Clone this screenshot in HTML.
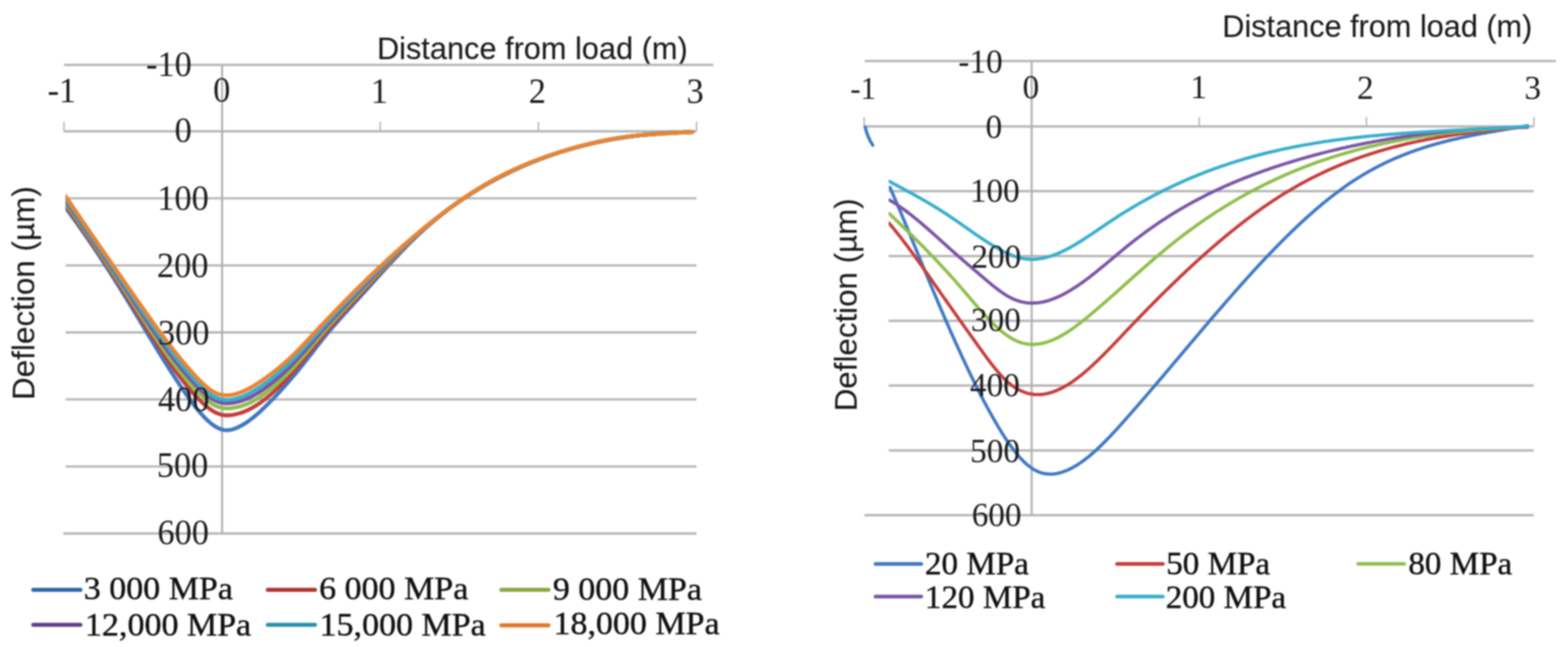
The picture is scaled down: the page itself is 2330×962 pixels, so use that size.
<!DOCTYPE html><html><head><meta charset="utf-8"><title>Deflection charts</title><style>html,body{margin:0;padding:0;background:#fff;}svg{display:block;filter:blur(0.8px);}.n{font-family:"Liberation Serif","Times New Roman",serif;fill:#1c1c1c;stroke:#1c1c1c;stroke-width:0.00px;}.lg{stroke-width:0.6px;fill:#111;stroke:#111;}.t{font-family:"Liberation Sans",Arial,sans-serif;fill:#1a1a1a;stroke:#1a1a1a;stroke-width:0.15px;}</style></head><body>
<svg width="2330" height="962" viewBox="0 0 2330 962">
<defs><clipPath id="cl"><rect x="97.5" y="0" width="1000" height="962"/></clipPath><clipPath id="cr"><rect x="1320.5" y="0" width="1000" height="962"/></clipPath></defs>
<rect x="0" y="0" width="2330" height="962" fill="#fff"/>
<g id="left">
<text class="t" transform="translate(560.14 88.40) scale(1 1.0169)" x="0" y="0" font-size="45.68">Distance from load (m)</text>
<text class="t" transform="translate(50.72 594.65) rotate(-90) scale(1 0.9818)" x="0" y="0" font-size="46.73">Deflection (µm)</text>
<line x1="95" y1="96.5" x2="1060" y2="96.5" stroke="#b6b6b6" stroke-width="3.4"/>
<line x1="95.0" y1="195.2" x2="1035" y2="195.2" stroke="#b6b6b6" stroke-width="3.4"/>
<line x1="97.5" y1="294.9" x2="1035" y2="294.9" stroke="#b6b6b6" stroke-width="3.4"/>
<line x1="97.5" y1="394.6" x2="1035" y2="394.6" stroke="#b6b6b6" stroke-width="3.4"/>
<line x1="97.5" y1="494.2" x2="1035" y2="494.2" stroke="#b6b6b6" stroke-width="3.4"/>
<line x1="97.5" y1="593.9" x2="1035" y2="593.9" stroke="#b6b6b6" stroke-width="3.4"/>
<line x1="97.5" y1="693.6" x2="1035" y2="693.6" stroke="#b6b6b6" stroke-width="3.4"/>
<line x1="94.0" y1="793.3" x2="1035" y2="793.3" stroke="#b6b6b6" stroke-width="3.4"/>
<line x1="95.0" y1="181" x2="95.0" y2="195" stroke="#b0b0b0" stroke-width="2"/>
<line x1="330.0" y1="181" x2="330.0" y2="195" stroke="#b0b0b0" stroke-width="2"/>
<line x1="565.0" y1="181" x2="565.0" y2="195" stroke="#b0b0b0" stroke-width="2"/>
<line x1="800.0" y1="181" x2="800.0" y2="195" stroke="#b0b0b0" stroke-width="2"/>
<line x1="1035.0" y1="181" x2="1035.0" y2="195" stroke="#b0b0b0" stroke-width="2"/>
<line x1="330" y1="98" x2="330" y2="793" stroke="#b0b0b0" stroke-width="3"/>
<g fill="none" stroke-width="5.8" stroke-linejoin="round" stroke-linecap="round" clip-path="url(#cl)">
<path d="M97.0 308.2L99.0 310.9L101.0 313.6L103.0 316.3L105.0 319.0L107.0 321.8L109.0 324.6L111.0 327.3L113.0 330.1L115.0 332.9L117.0 335.8L119.0 338.6L121.0 341.5L123.0 344.3L125.0 347.2L127.0 350.1L129.0 353.0L131.0 355.9L133.0 358.8L135.0 361.8L137.0 364.7L139.0 367.7L141.0 370.7L143.0 373.7L145.0 376.7L147.0 379.7L149.0 382.7L151.0 385.8L153.0 388.8L155.0 391.9L157.0 395.0L159.0 398.1L161.0 401.2L163.0 404.3L165.0 407.4L167.0 410.6L169.0 413.7L171.0 416.9L173.0 420.1L175.0 423.3L177.0 426.5L179.0 429.7L181.0 432.9L183.0 436.1L185.0 439.4L187.0 442.6L189.0 445.9L191.0 449.2L193.0 452.5L195.0 455.8L197.0 459.1L199.0 462.4L201.0 465.7L203.0 469.0L205.0 472.3L207.0 475.6L209.0 479.0L211.0 482.3L213.0 485.6L215.0 488.9L217.0 492.2L219.0 495.6L221.0 498.9L223.0 502.2L225.0 505.5L227.0 508.8L229.0 512.1L231.0 515.4L233.0 518.6L235.0 521.9L237.0 525.2L239.0 528.4L241.0 531.6L243.0 534.9L245.0 538.1L247.0 541.2L249.0 544.4L251.0 547.6L253.0 550.7L255.0 553.9L257.0 557.0L259.0 560.0L261.0 563.1L263.0 566.2L265.0 569.2L267.0 572.2L269.0 575.2L271.0 578.1L273.0 581.0L275.0 583.9L277.0 586.8L279.0 589.7L281.0 592.5L283.0 595.2L285.0 597.9L287.0 600.6L289.0 603.2L291.0 605.8L293.0 608.3L295.0 610.7L297.0 613.1L299.0 615.3L301.0 617.6L303.0 619.7L305.0 621.8L307.0 623.7L309.0 625.6L311.0 627.4L313.0 629.1L315.0 630.7L317.0 632.1L319.0 633.5L321.0 634.8L323.0 635.9L325.0 636.9L327.0 637.7L329.0 638.4L331.0 639.0L333.0 639.4L335.0 639.6L337.0 639.7L339.0 639.6L341.0 639.4L343.0 639.0L345.0 638.6L347.0 638.0L349.0 637.3L351.0 636.6L353.0 635.7L355.0 634.7L357.0 633.7L359.0 632.6L361.0 631.5L363.0 630.3L365.0 629.0L367.0 627.7L369.0 626.3L371.0 624.8L373.0 623.3L375.0 621.8L377.0 620.2L379.0 618.5L381.0 616.8L383.0 615.1L385.0 613.3L387.0 611.5L389.0 609.6L391.0 607.7L393.0 605.8L395.0 603.8L397.0 601.9L399.0 599.9L401.0 597.8L403.0 595.8L405.0 593.7L407.0 591.6L409.0 589.5L411.0 587.4L413.0 585.2L415.0 583.0L417.0 580.9L419.0 578.6L421.0 576.4L423.0 574.2L425.0 571.9L427.0 569.7L429.0 567.4L431.0 565.0L433.0 562.7L435.0 560.4L437.0 558.0L439.0 555.6L441.0 553.2L443.0 550.8L445.0 548.3L447.0 545.8L449.0 543.4L451.0 540.8L453.0 538.3L455.0 535.8L457.0 533.2L459.0 530.6L461.0 528.1L463.0 525.5L465.0 522.9L467.0 520.3L469.0 517.7L471.0 515.1L473.0 512.6L475.0 510.0L477.0 507.5L479.0 505.0L481.0 502.5L483.0 500.0L485.0 497.5L487.0 495.1L489.0 492.7L491.0 490.4L493.0 488.0L495.0 485.7L497.0 483.4L499.0 481.1L501.0 478.8L503.0 476.5L505.0 474.3L507.0 472.1L509.0 469.8L511.0 467.6L513.0 465.4L515.0 463.2L517.0 461.0L519.0 458.8L521.0 456.7L523.0 454.5L525.0 452.3L527.0 450.1L529.0 447.9L531.0 445.7L533.0 443.5L535.0 441.3L537.0 439.1L539.0 436.9L541.0 434.7L543.0 432.4L545.0 430.2L547.0 428.0L549.0 425.8L551.0 423.5L553.0 421.3L555.0 419.1L557.0 416.9L559.0 414.6L561.0 412.4L563.0 410.2L565.0 408.0L567.0 405.8L569.0 403.6L571.0 401.4L573.0 399.2L575.0 397.0L577.0 394.8L579.0 392.7L581.0 390.5L583.0 388.3L585.0 386.2L587.0 384.0L589.0 381.9L591.0 379.8L593.0 377.7L595.0 375.6L597.0 373.5L599.0 371.4L601.0 369.4L603.0 367.3L605.0 365.3L607.0 363.3L609.0 361.3L611.0 359.3L613.0 357.3L615.0 355.4L617.0 353.4L619.0 351.5L621.0 349.6L623.0 347.7L625.0 345.9L627.0 344.0L629.0 342.2L631.0 340.4L633.0 338.6L635.0 336.8L637.0 335.1L639.0 333.4L641.0 331.6L643.0 329.9L645.0 328.2L647.0 326.6L649.0 324.9L651.0 323.3L653.0 321.7L655.0 320.1L657.0 318.5L659.0 316.9L661.0 315.4L663.0 313.8L665.0 312.3L667.0 310.8L669.0 309.3L671.0 307.8L673.0 306.4L675.0 304.9L677.0 303.5L679.0 302.1L681.0 300.7L683.0 299.3L685.0 297.9L687.0 296.5L689.0 295.2L691.0 293.8L693.0 292.5L695.0 291.2L697.0 289.9L699.0 288.6L701.0 287.4L703.0 286.1L705.0 284.9L707.0 283.6L709.0 282.4L711.0 281.2L713.0 280.0L715.0 278.8L717.0 277.6L719.0 276.5L721.0 275.3L723.0 274.2L725.0 273.0L727.0 271.9L729.0 270.8L731.0 269.7L733.0 268.6L735.0 267.6L737.0 266.5L739.0 265.4L741.0 264.4L743.0 263.3L745.0 262.3L747.0 261.3L749.0 260.3L751.0 259.3L753.0 258.3L755.0 257.3L757.0 256.3L759.0 255.4L761.0 254.4L763.0 253.5L765.0 252.5L767.0 251.6L769.0 250.7L771.0 249.8L773.0 248.9L775.0 248.0L777.0 247.1L779.0 246.3L781.0 245.4L783.0 244.5L785.0 243.7L787.0 242.9L789.0 242.0L791.0 241.2L793.0 240.4L795.0 239.6L797.0 238.8L799.0 238.0L801.0 237.3L803.0 236.5L805.0 235.8L807.0 235.0L809.0 234.3L811.0 233.5L813.0 232.8L815.0 232.1L817.0 231.4L819.0 230.7L821.0 230.0L823.0 229.3L825.0 228.7L827.0 228.0L829.0 227.3L831.0 226.7L833.0 226.0L835.0 225.4L837.0 224.8L839.0 224.2L841.0 223.6L843.0 223.0L845.0 222.4L847.0 221.8L849.0 221.2L851.0 220.7L853.0 220.1L855.0 219.5L857.0 219.0L859.0 218.5L861.0 217.9L863.0 217.4L865.0 216.9L867.0 216.4L869.0 215.9L871.0 215.4L873.0 214.9L875.0 214.4L877.0 213.9L879.0 213.5L881.0 213.0L883.0 212.6L885.0 212.1L887.0 211.7L889.0 211.3L891.0 210.8L893.0 210.4L895.0 210.0L897.0 209.6L899.0 209.2L901.0 208.8L903.0 208.5L905.0 208.1L907.0 207.7L909.0 207.3L911.0 207.0L913.0 206.6L915.0 206.3L917.0 206.0L919.0 205.6L921.0 205.3L923.0 205.0L925.0 204.7L927.0 204.4L929.0 204.1L931.0 203.8L933.0 203.5L935.0 203.2L937.0 203.0L939.0 202.7L941.0 202.4L943.0 202.2L945.0 201.9L947.0 201.7L949.0 201.5L951.0 201.2L953.0 201.0L955.0 200.8L957.0 200.6L959.0 200.4L961.0 200.2L963.0 200.0L965.0 199.8L967.0 199.6L969.0 199.4L971.0 199.2L973.0 199.1L975.0 198.9L977.0 198.7L979.0 198.6L981.0 198.4L983.0 198.3L985.0 198.2L987.0 198.0L989.0 197.9L991.0 197.8L993.0 197.7L995.0 197.6L997.0 197.5L999.0 197.4L1001.0 197.3L1003.0 197.2L1005.0 197.1L1007.0 197.0L1009.0 196.9L1011.0 196.9L1013.0 196.8L1015.0 196.7L1017.0 196.7L1019.0 196.6L1021.0 196.6L1023.0 196.5L1025.0 196.5L1027.0 196.4L1028.7 196.4" stroke="#3f78c4"/>
<path d="M97.0 304.7L99.0 307.5L101.0 310.2L103.0 313.0L105.0 315.8L107.0 318.6L109.0 321.4L111.0 324.2L113.0 327.0L115.0 329.9L117.0 332.7L119.0 335.6L121.0 338.4L123.0 341.3L125.0 344.2L127.0 347.1L129.0 350.0L131.0 352.9L133.0 355.9L135.0 358.8L137.0 361.7L139.0 364.7L141.0 367.7L143.0 370.6L145.0 373.6L147.0 376.6L149.0 379.6L151.0 382.6L153.0 385.7L155.0 388.7L157.0 391.7L159.0 394.8L161.0 397.8L163.0 400.9L165.0 404.0L167.0 407.1L169.0 410.2L171.0 413.3L173.0 416.4L175.0 419.5L177.0 422.7L179.0 425.8L181.0 428.9L183.0 432.1L185.0 435.3L187.0 438.4L189.0 441.6L191.0 444.8L193.0 448.0L195.0 451.2L197.0 454.3L199.0 457.5L201.0 460.7L203.0 463.9L205.0 467.1L207.0 470.3L209.0 473.5L211.0 476.7L213.0 479.9L215.0 483.1L217.0 486.2L219.0 489.4L221.0 492.5L223.0 495.7L225.0 498.8L227.0 501.9L229.0 505.0L231.0 508.1L233.0 511.2L235.0 514.2L237.0 517.3L239.0 520.3L241.0 523.3L243.0 526.3L245.0 529.2L247.0 532.2L249.0 535.1L251.0 537.9L253.0 540.8L255.0 543.6L257.0 546.4L259.0 549.2L261.0 551.9L263.0 554.6L265.0 557.3L267.0 560.0L269.0 562.6L271.0 565.2L273.0 567.7L275.0 570.2L277.0 572.7L279.0 575.2L281.0 577.6L283.0 579.9L285.0 582.3L287.0 584.5L289.0 586.8L291.0 589.0L293.0 591.1L295.0 593.2L297.0 595.2L299.0 597.2L301.0 599.1L303.0 600.9L305.0 602.7L307.0 604.3L309.0 605.9L311.0 607.5L313.0 608.9L315.0 610.2L317.0 611.5L319.0 612.6L321.0 613.6L323.0 614.5L325.0 615.3L327.0 616.0L329.0 616.5L331.0 617.0L333.0 617.3L335.0 617.5L337.0 617.5L339.0 617.5L341.0 617.4L343.0 617.3L345.0 617.0L347.0 616.7L349.0 616.3L351.0 615.8L353.0 615.3L355.0 614.8L357.0 614.2L359.0 613.5L361.0 612.8L363.0 612.0L365.0 611.2L367.0 610.3L369.0 609.4L371.0 608.4L373.0 607.4L375.0 606.3L377.0 605.1L379.0 604.0L381.0 602.7L383.0 601.4L385.0 600.1L387.0 598.7L389.0 597.2L391.0 595.7L393.0 594.2L395.0 592.6L397.0 591.0L399.0 589.3L401.0 587.6L403.0 585.9L405.0 584.1L407.0 582.3L409.0 580.4L411.0 578.6L413.0 576.7L415.0 574.7L417.0 572.8L419.0 570.8L421.0 568.7L423.0 566.7L425.0 564.6L427.0 562.5L429.0 560.3L431.0 558.2L433.0 556.0L435.0 553.7L437.0 551.5L439.0 549.2L441.0 546.9L443.0 544.6L445.0 542.2L447.0 539.9L449.0 537.5L451.0 535.0L453.0 532.6L455.0 530.2L457.0 527.7L459.0 525.2L461.0 522.7L463.0 520.2L465.0 517.7L467.0 515.3L469.0 512.8L471.0 510.3L473.0 507.8L475.0 505.3L477.0 502.9L479.0 500.4L481.0 498.0L483.0 495.6L485.0 493.2L487.0 490.9L489.0 488.5L491.0 486.2L493.0 483.9L495.0 481.7L497.0 479.4L499.0 477.2L501.0 474.9L503.0 472.7L505.0 470.5L507.0 468.3L509.0 466.1L511.0 463.9L513.0 461.8L515.0 459.6L517.0 457.4L519.0 455.3L521.0 453.1L523.0 451.0L525.0 448.8L527.0 446.7L529.0 444.5L531.0 442.4L533.0 440.2L535.0 438.1L537.0 435.9L539.0 433.7L541.0 431.6L543.0 429.4L545.0 427.2L547.0 425.1L549.0 422.9L551.0 420.7L553.0 418.6L555.0 416.4L557.0 414.2L559.0 412.1L561.0 409.9L563.0 407.8L565.0 405.6L567.0 403.5L569.0 401.4L571.0 399.2L573.0 397.1L575.0 395.0L577.0 392.9L579.0 390.8L581.0 388.7L583.0 386.6L585.0 384.5L587.0 382.4L589.0 380.4L591.0 378.3L593.0 376.3L595.0 374.2L597.0 372.2L599.0 370.2L601.0 368.2L603.0 366.2L605.0 364.2L607.0 362.3L609.0 360.3L611.0 358.4L613.0 356.5L615.0 354.6L617.0 352.7L619.0 350.8L621.0 349.0L623.0 347.1L625.0 345.3L627.0 343.5L629.0 341.7L631.0 339.9L633.0 338.2L635.0 336.4L637.0 334.7L639.0 333.0L641.0 331.3L643.0 329.6L645.0 328.0L647.0 326.3L649.0 324.7L651.0 323.1L653.0 321.5L655.0 319.9L657.0 318.3L659.0 316.8L661.0 315.2L663.0 313.7L665.0 312.2L667.0 310.7L669.0 309.2L671.0 307.7L673.0 306.3L675.0 304.8L677.0 303.4L679.0 302.0L681.0 300.6L683.0 299.2L685.0 297.8L687.0 296.4L689.0 295.1L691.0 293.7L693.0 292.4L695.0 291.1L697.0 289.8L699.0 288.5L701.0 287.2L703.0 286.0L705.0 284.7L707.0 283.5L709.0 282.3L711.0 281.0L713.0 279.8L715.0 278.6L717.0 277.5L719.0 276.3L721.0 275.1L723.0 274.0L725.0 272.9L727.0 271.7L729.0 270.6L731.0 269.5L733.0 268.4L735.0 267.3L737.0 266.3L739.0 265.2L741.0 264.2L743.0 263.1L745.0 262.1L747.0 261.1L749.0 260.1L751.0 259.1L753.0 258.1L755.0 257.1L757.0 256.1L759.0 255.2L761.0 254.2L763.0 253.3L765.0 252.3L767.0 251.4L769.0 250.5L771.0 249.6L773.0 248.7L775.0 247.8L777.0 247.0L779.0 246.1L781.0 245.2L783.0 244.4L785.0 243.6L787.0 242.7L789.0 241.9L791.0 241.1L793.0 240.3L795.0 239.5L797.0 238.7L799.0 237.9L801.0 237.2L803.0 236.4L805.0 235.7L807.0 234.9L809.0 234.2L811.0 233.5L813.0 232.8L815.0 232.0L817.0 231.3L819.0 230.7L821.0 230.0L823.0 229.3L825.0 228.6L827.0 228.0L829.0 227.3L831.0 226.7L833.0 226.0L835.0 225.4L837.0 224.8L839.0 224.2L841.0 223.5L843.0 222.9L845.0 222.4L847.0 221.8L849.0 221.2L851.0 220.6L853.0 220.1L855.0 219.5L857.0 219.0L859.0 218.4L861.0 217.9L863.0 217.4L865.0 216.8L867.0 216.3L869.0 215.8L871.0 215.3L873.0 214.8L875.0 214.3L877.0 213.9L879.0 213.4L881.0 212.9L883.0 212.5L885.0 212.0L887.0 211.6L889.0 211.2L891.0 210.7L893.0 210.3L895.0 209.9L897.0 209.5L899.0 209.1L901.0 208.7L903.0 208.3L905.0 208.0L907.0 207.6L909.0 207.2L911.0 206.9L913.0 206.5L915.0 206.2L917.0 205.9L919.0 205.5L921.0 205.2L923.0 204.9L925.0 204.6L927.0 204.3L929.0 204.0L931.0 203.7L933.0 203.4L935.0 203.2L937.0 202.9L939.0 202.6L941.0 202.4L943.0 202.2L945.0 201.9L947.0 201.7L949.0 201.5L951.0 201.2L953.0 201.0L955.0 200.8L957.0 200.6L959.0 200.4L961.0 200.2L963.0 200.0L965.0 199.8L967.0 199.7L969.0 199.5L971.0 199.3L973.0 199.2L975.0 199.0L977.0 198.9L979.0 198.7L981.0 198.6L983.0 198.4L985.0 198.3L987.0 198.2L989.0 198.0L991.0 197.9L993.0 197.8L995.0 197.7L997.0 197.6L999.0 197.5L1001.0 197.4L1003.0 197.3L1005.0 197.2L1007.0 197.1L1009.0 197.0L1011.0 196.9L1013.0 196.9L1015.0 196.8L1017.0 196.7L1019.0 196.6L1021.0 196.6L1023.0 196.5L1025.0 196.4L1027.0 196.4L1028.7 196.3" stroke="#c53d3a"/>
<path d="M97.0 301.3L99.0 304.1L101.0 306.9L103.0 309.7L105.0 312.6L107.0 315.4L109.0 318.2L111.0 321.1L113.0 323.9L115.0 326.8L117.0 329.7L119.0 332.5L121.0 335.4L123.0 338.3L125.0 341.2L127.0 344.1L129.0 347.0L131.0 349.9L133.0 352.9L135.0 355.8L137.0 358.7L139.0 361.7L141.0 364.6L143.0 367.6L145.0 370.6L147.0 373.5L149.0 376.5L151.0 379.5L153.0 382.5L155.0 385.5L157.0 388.5L159.0 391.5L161.0 394.5L163.0 397.6L165.0 400.6L167.0 403.6L169.0 406.7L171.0 409.7L173.0 412.8L175.0 415.8L177.0 418.9L179.0 422.0L181.0 425.0L183.0 428.1L185.0 431.2L187.0 434.3L189.0 437.4L191.0 440.5L193.0 443.6L195.0 446.7L197.0 449.8L199.0 452.9L201.0 456.0L203.0 459.1L205.0 462.2L207.0 465.3L209.0 468.4L211.0 471.5L213.0 474.6L215.0 477.7L217.0 480.8L219.0 483.8L221.0 486.9L223.0 489.9L225.0 492.9L227.0 496.0L229.0 499.0L231.0 501.9L233.0 504.9L235.0 507.9L237.0 510.8L239.0 513.7L241.0 516.6L243.0 519.5L245.0 522.3L247.0 525.2L249.0 528.0L251.0 530.7L253.0 533.5L255.0 536.2L257.0 538.9L259.0 541.5L261.0 544.2L263.0 546.8L265.0 549.4L267.0 551.9L269.0 554.4L271.0 556.9L273.0 559.3L275.0 561.8L277.0 564.1L279.0 566.5L281.0 568.8L283.0 571.1L285.0 573.3L287.0 575.5L289.0 577.6L291.0 579.8L293.0 581.8L295.0 583.8L297.0 585.8L299.0 587.7L301.0 589.6L303.0 591.3L305.0 593.1L307.0 594.7L309.0 596.2L311.0 597.7L313.0 599.1L315.0 600.4L317.0 601.6L319.0 602.6L321.0 603.6L323.0 604.5L325.0 605.2L327.0 605.8L329.0 606.3L331.0 606.7L333.0 607.0L335.0 607.1L337.0 607.2L339.0 607.2L341.0 607.1L343.0 607.0L345.0 606.7L347.0 606.4L349.0 606.1L351.0 605.7L353.0 605.2L355.0 604.7L357.0 604.2L359.0 603.6L361.0 602.9L363.0 602.2L365.0 601.5L367.0 600.7L369.0 599.8L371.0 598.9L373.0 597.9L375.0 596.9L377.0 595.9L379.0 594.8L381.0 593.6L383.0 592.4L385.0 591.1L387.0 589.8L389.0 588.5L391.0 587.1L393.0 585.7L395.0 584.2L397.0 582.7L399.0 581.1L401.0 579.5L403.0 577.9L405.0 576.2L407.0 574.5L409.0 572.8L411.0 571.0L413.0 569.2L415.0 567.4L417.0 565.5L419.0 563.6L421.0 561.7L423.0 559.7L425.0 557.7L427.0 555.7L429.0 553.7L431.0 551.6L433.0 549.5L435.0 547.4L437.0 545.2L439.0 543.0L441.0 540.8L443.0 538.5L445.0 536.3L447.0 534.0L449.0 531.7L451.0 529.3L453.0 527.0L455.0 524.6L457.0 522.2L459.0 519.8L461.0 517.4L463.0 515.0L465.0 512.6L467.0 510.2L469.0 507.8L471.0 505.4L473.0 503.0L475.0 500.6L477.0 498.3L479.0 495.9L481.0 493.6L483.0 491.2L485.0 488.9L487.0 486.6L489.0 484.4L491.0 482.1L493.0 479.9L495.0 477.6L497.0 475.4L499.0 473.2L501.0 471.0L503.0 468.9L505.0 466.7L507.0 464.5L509.0 462.4L511.0 460.2L513.0 458.1L515.0 456.0L517.0 453.8L519.0 451.7L521.0 449.6L523.0 447.5L525.0 445.4L527.0 443.3L529.0 441.2L531.0 439.0L533.0 436.9L535.0 434.8L537.0 432.7L539.0 430.6L541.0 428.5L543.0 426.4L545.0 424.3L547.0 422.1L549.0 420.0L551.0 417.9L553.0 415.8L555.0 413.7L557.0 411.6L559.0 409.5L561.0 407.4L563.0 405.4L565.0 403.3L567.0 401.2L569.0 399.1L571.0 397.1L573.0 395.0L575.0 393.0L577.0 390.9L579.0 388.9L581.0 386.9L583.0 384.8L585.0 382.8L587.0 380.8L589.0 378.8L591.0 376.8L593.0 374.8L595.0 372.9L597.0 370.9L599.0 369.0L601.0 367.0L603.0 365.1L605.0 363.2L607.0 361.3L609.0 359.4L611.0 357.5L613.0 355.7L615.0 353.8L617.0 352.0L619.0 350.1L621.0 348.3L623.0 346.5L625.0 344.7L627.0 343.0L629.0 341.2L631.0 339.5L633.0 337.8L635.0 336.1L637.0 334.4L639.0 332.7L641.0 331.0L643.0 329.4L645.0 327.7L647.0 326.1L649.0 324.5L651.0 322.9L653.0 321.3L655.0 319.7L657.0 318.1L659.0 316.6L661.0 315.1L663.0 313.5L665.0 312.0L667.0 310.5L669.0 309.1L671.0 307.6L673.0 306.1L675.0 304.7L677.0 303.3L679.0 301.9L681.0 300.5L683.0 299.1L685.0 297.7L687.0 296.3L689.0 295.0L691.0 293.6L693.0 292.3L695.0 291.0L697.0 289.7L699.0 288.4L701.0 287.1L703.0 285.8L705.0 284.6L707.0 283.3L709.0 282.1L711.0 280.9L713.0 279.7L715.0 278.5L717.0 277.3L719.0 276.1L721.0 275.0L723.0 273.8L725.0 272.7L727.0 271.5L729.0 270.4L731.0 269.3L733.0 268.2L735.0 267.1L737.0 266.1L739.0 265.0L741.0 263.9L743.0 262.9L745.0 261.9L747.0 260.9L749.0 259.8L751.0 258.9L753.0 257.9L755.0 256.9L757.0 255.9L759.0 255.0L761.0 254.0L763.0 253.1L765.0 252.2L767.0 251.2L769.0 250.3L771.0 249.4L773.0 248.5L775.0 247.7L777.0 246.8L779.0 245.9L781.0 245.1L783.0 244.2L785.0 243.4L787.0 242.6L789.0 241.8L791.0 241.0L793.0 240.2L795.0 239.4L797.0 238.6L799.0 237.8L801.0 237.1L803.0 236.3L805.0 235.6L807.0 234.9L809.0 234.1L811.0 233.4L813.0 232.7L815.0 232.0L817.0 231.3L819.0 230.6L821.0 229.9L823.0 229.3L825.0 228.6L827.0 227.9L829.0 227.3L831.0 226.6L833.0 226.0L835.0 225.4L837.0 224.7L839.0 224.1L841.0 223.5L843.0 222.9L845.0 222.3L847.0 221.7L849.0 221.2L851.0 220.6L853.0 220.0L855.0 219.5L857.0 218.9L859.0 218.4L861.0 217.8L863.0 217.3L865.0 216.8L867.0 216.3L869.0 215.8L871.0 215.3L873.0 214.8L875.0 214.3L877.0 213.8L879.0 213.3L881.0 212.9L883.0 212.4L885.0 211.9L887.0 211.5L889.0 211.1L891.0 210.6L893.0 210.2L895.0 209.8L897.0 209.4L899.0 209.0L901.0 208.6L903.0 208.2L905.0 207.8L907.0 207.5L909.0 207.1L911.0 206.8L913.0 206.4L915.0 206.1L917.0 205.7L919.0 205.4L921.0 205.1L923.0 204.8L925.0 204.5L927.0 204.2L929.0 203.9L931.0 203.6L933.0 203.4L935.0 203.1L937.0 202.8L939.0 202.6L941.0 202.4L943.0 202.1L945.0 201.9L947.0 201.7L949.0 201.4L951.0 201.2L953.0 201.0L955.0 200.8L957.0 200.6L959.0 200.4L961.0 200.3L963.0 200.1L965.0 199.9L967.0 199.7L969.0 199.6L971.0 199.4L973.0 199.3L975.0 199.1L977.0 199.0L979.0 198.8L981.0 198.7L983.0 198.6L985.0 198.4L987.0 198.3L989.0 198.2L991.0 198.1L993.0 197.9L995.0 197.8L997.0 197.7L999.0 197.6L1001.0 197.5L1003.0 197.4L1005.0 197.3L1007.0 197.2L1009.0 197.1L1011.0 197.0L1013.0 196.9L1015.0 196.8L1017.0 196.7L1019.0 196.6L1021.0 196.6L1023.0 196.5L1025.0 196.4L1027.0 196.3L1028.7 196.2" stroke="#8ebe4a"/>
<path d="M97.0 297.9L99.0 300.7L101.0 303.6L103.0 306.5L105.0 309.3L107.0 312.2L109.0 315.1L111.0 318.0L113.0 320.8L115.0 323.7L117.0 326.6L119.0 329.5L121.0 332.4L123.0 335.3L125.0 338.2L127.0 341.1L129.0 344.1L131.0 347.0L133.0 349.9L135.0 352.8L137.0 355.8L139.0 358.7L141.0 361.6L143.0 364.6L145.0 367.5L147.0 370.5L149.0 373.4L151.0 376.4L153.0 379.3L155.0 382.3L157.0 385.3L159.0 388.2L161.0 391.2L163.0 394.2L165.0 397.2L167.0 400.2L169.0 403.2L171.0 406.1L173.0 409.1L175.0 412.1L177.0 415.1L179.0 418.2L181.0 421.2L183.0 424.2L185.0 427.2L187.0 430.2L189.0 433.2L191.0 436.2L193.0 439.3L195.0 442.3L197.0 445.3L199.0 448.3L201.0 451.4L203.0 454.4L205.0 457.4L207.0 460.4L209.0 463.4L211.0 466.4L213.0 469.4L215.0 472.4L217.0 475.4L219.0 478.4L221.0 481.4L223.0 484.3L225.0 487.3L227.0 490.2L229.0 493.1L231.0 496.0L233.0 498.9L235.0 501.8L237.0 504.7L239.0 507.5L241.0 510.3L243.0 513.1L245.0 515.9L247.0 518.6L249.0 521.4L251.0 524.1L253.0 526.8L255.0 529.4L257.0 532.1L259.0 534.7L261.0 537.2L263.0 539.8L265.0 542.3L267.0 544.8L269.0 547.3L271.0 549.7L273.0 552.1L275.0 554.5L277.0 556.8L279.0 559.2L281.0 561.4L283.0 563.7L285.0 565.9L287.0 568.1L289.0 570.2L291.0 572.3L293.0 574.4L295.0 576.4L297.0 578.4L299.0 580.3L301.0 582.2L303.0 584.0L305.0 585.7L307.0 587.3L309.0 588.9L311.0 590.4L313.0 591.7L315.0 593.0L317.0 594.2L319.0 595.3L321.0 596.2L323.0 597.1L325.0 597.8L327.0 598.4L329.0 598.8L331.0 599.2L333.0 599.5L335.0 599.6L337.0 599.7L339.0 599.6L341.0 599.5L343.0 599.4L345.0 599.1L347.0 598.8L349.0 598.5L351.0 598.0L353.0 597.6L355.0 597.0L357.0 596.5L359.0 595.8L361.0 595.2L363.0 594.4L365.0 593.6L367.0 592.8L369.0 591.9L371.0 591.0L373.0 590.0L375.0 589.0L377.0 588.0L379.0 586.8L381.0 585.7L383.0 584.5L385.0 583.3L387.0 582.0L389.0 580.6L391.0 579.3L393.0 577.9L395.0 576.4L397.0 574.9L399.0 573.4L401.0 571.9L403.0 570.3L405.0 568.7L407.0 567.1L409.0 565.4L411.0 563.7L413.0 562.0L415.0 560.2L417.0 558.5L419.0 556.6L421.0 554.8L423.0 552.9L425.0 551.0L427.0 549.1L429.0 547.1L431.0 545.1L433.0 543.1L435.0 541.0L437.0 538.9L439.0 536.8L441.0 534.7L443.0 532.5L445.0 530.3L447.0 528.1L449.0 525.9L451.0 523.6L453.0 521.3L455.0 519.1L457.0 516.8L459.0 514.4L461.0 512.1L463.0 509.8L465.0 507.5L467.0 505.2L469.0 502.9L471.0 500.6L473.0 498.3L475.0 496.0L477.0 493.7L479.0 491.4L481.0 489.1L483.0 486.9L485.0 484.6L487.0 482.4L489.0 480.2L491.0 478.0L493.0 475.8L495.0 473.6L497.0 471.5L499.0 469.3L501.0 467.2L503.0 465.0L505.0 462.9L507.0 460.8L509.0 458.6L511.0 456.5L513.0 454.4L515.0 452.3L517.0 450.2L519.0 448.2L521.0 446.1L523.0 444.0L525.0 441.9L527.0 439.8L529.0 437.8L531.0 435.7L533.0 433.6L535.0 431.6L537.0 429.5L539.0 427.4L541.0 425.4L543.0 423.3L545.0 421.3L547.0 419.2L549.0 417.2L551.0 415.1L553.0 413.1L555.0 411.0L557.0 409.0L559.0 407.0L561.0 405.0L563.0 402.9L565.0 400.9L567.0 398.9L569.0 396.9L571.0 394.9L573.0 392.9L575.0 390.9L577.0 389.0L579.0 387.0L581.0 385.0L583.0 383.1L585.0 381.1L587.0 379.2L589.0 377.3L591.0 375.3L593.0 373.4L595.0 371.5L597.0 369.6L599.0 367.7L601.0 365.9L603.0 364.0L605.0 362.1L607.0 360.3L609.0 358.5L611.0 356.6L613.0 354.8L615.0 353.0L617.0 351.2L619.0 349.4L621.0 347.7L623.0 345.9L625.0 344.2L627.0 342.5L629.0 340.7L631.0 339.0L633.0 337.3L635.0 335.7L637.0 334.0L639.0 332.3L641.0 330.7L643.0 329.1L645.0 327.4L647.0 325.8L649.0 324.2L651.0 322.7L653.0 321.1L655.0 319.5L657.0 318.0L659.0 316.4L661.0 314.9L663.0 313.4L665.0 311.9L667.0 310.4L669.0 308.9L671.0 307.5L673.0 306.0L675.0 304.6L677.0 303.2L679.0 301.8L681.0 300.4L683.0 299.0L685.0 297.6L687.0 296.2L689.0 294.9L691.0 293.5L693.0 292.2L695.0 290.9L697.0 289.6L699.0 288.3L701.0 287.0L703.0 285.7L705.0 284.4L707.0 283.2L709.0 282.0L711.0 280.7L713.0 279.5L715.0 278.3L717.0 277.1L719.0 275.9L721.0 274.8L723.0 273.6L725.0 272.5L727.0 271.3L729.0 270.2L731.0 269.1L733.0 268.0L735.0 266.9L737.0 265.8L739.0 264.8L741.0 263.7L743.0 262.7L745.0 261.7L747.0 260.6L749.0 259.6L751.0 258.6L753.0 257.7L755.0 256.7L757.0 255.7L759.0 254.8L761.0 253.8L763.0 252.9L765.0 252.0L767.0 251.1L769.0 250.1L771.0 249.3L773.0 248.4L775.0 247.5L777.0 246.6L779.0 245.8L781.0 244.9L783.0 244.1L785.0 243.3L787.0 242.5L789.0 241.7L791.0 240.9L793.0 240.1L795.0 239.3L797.0 238.5L799.0 237.7L801.0 237.0L803.0 236.2L805.0 235.5L807.0 234.8L809.0 234.1L811.0 233.3L813.0 232.6L815.0 231.9L817.0 231.2L819.0 230.6L821.0 229.9L823.0 229.2L825.0 228.6L827.0 227.9L829.0 227.2L831.0 226.6L833.0 226.0L835.0 225.3L837.0 224.7L839.0 224.1L841.0 223.5L843.0 222.9L845.0 222.3L847.0 221.7L849.0 221.1L851.0 220.6L853.0 220.0L855.0 219.4L857.0 218.9L859.0 218.3L861.0 217.8L863.0 217.3L865.0 216.7L867.0 216.2L869.0 215.7L871.0 215.2L873.0 214.7L875.0 214.2L877.0 213.7L879.0 213.2L881.0 212.8L883.0 212.3L885.0 211.9L887.0 211.4L889.0 211.0L891.0 210.5L893.0 210.1L895.0 209.7L897.0 209.3L899.0 208.9L901.0 208.5L903.0 208.1L905.0 207.7L907.0 207.3L909.0 207.0L911.0 206.6L913.0 206.3L915.0 206.0L917.0 205.6L919.0 205.3L921.0 205.0L923.0 204.7L925.0 204.4L927.0 204.1L929.0 203.8L931.0 203.6L933.0 203.3L935.0 203.0L937.0 202.8L939.0 202.5L941.0 202.3L943.0 202.1L945.0 201.9L947.0 201.6L949.0 201.4L951.0 201.2L953.0 201.0L955.0 200.9L957.0 200.7L959.0 200.5L961.0 200.3L963.0 200.1L965.0 200.0L967.0 199.8L969.0 199.7L971.0 199.5L973.0 199.4L975.0 199.2L977.0 199.1L979.0 199.0L981.0 198.8L983.0 198.7L985.0 198.6L987.0 198.4L989.0 198.3L991.0 198.2L993.0 198.1L995.0 198.0L997.0 197.9L999.0 197.7L1001.0 197.6L1003.0 197.5L1005.0 197.4L1007.0 197.3L1009.0 197.2L1011.0 197.1L1013.0 197.0L1015.0 196.9L1017.0 196.8L1019.0 196.7L1021.0 196.6L1023.0 196.5L1025.0 196.3L1027.0 196.2L1028.7 196.1" stroke="#7a55a5"/>
<path d="M97.0 294.4L99.0 297.4L101.0 300.3L103.0 303.2L105.0 306.1L107.0 309.0L109.0 311.9L111.0 314.8L113.0 317.7L115.0 320.7L117.0 323.6L119.0 326.5L121.0 329.4L123.0 332.3L125.0 335.2L127.0 338.2L129.0 341.1L131.0 344.0L133.0 346.9L135.0 349.8L137.0 352.8L139.0 355.7L141.0 358.6L143.0 361.5L145.0 364.5L147.0 367.4L149.0 370.3L151.0 373.3L153.0 376.2L155.0 379.1L157.0 382.0L159.0 385.0L161.0 387.9L163.0 390.8L165.0 393.8L167.0 396.7L169.0 399.7L171.0 402.6L173.0 405.5L175.0 408.5L177.0 411.4L179.0 414.4L181.0 417.3L183.0 420.2L185.0 423.2L187.0 426.1L189.0 429.1L191.0 432.0L193.0 435.0L195.0 437.9L197.0 440.8L199.0 443.8L201.0 446.7L203.0 449.7L205.0 452.6L207.0 455.6L209.0 458.5L211.0 461.4L213.0 464.3L215.0 467.3L217.0 470.2L219.0 473.1L221.0 476.0L223.0 478.9L225.0 481.8L227.0 484.6L229.0 487.5L231.0 490.3L233.0 493.2L235.0 496.0L237.0 498.8L239.0 501.6L241.0 504.4L243.0 507.1L245.0 509.8L247.0 512.6L249.0 515.3L251.0 517.9L253.0 520.6L255.0 523.2L257.0 525.9L259.0 528.4L261.0 531.0L263.0 533.6L265.0 536.1L267.0 538.6L269.0 541.1L271.0 543.5L273.0 546.0L275.0 548.4L277.0 550.7L279.0 553.1L281.0 555.4L283.0 557.7L285.0 559.9L287.0 562.2L289.0 564.4L291.0 566.5L293.0 568.7L295.0 570.7L297.0 572.8L299.0 574.8L301.0 576.7L303.0 578.5L305.0 580.3L307.0 582.0L309.0 583.6L311.0 585.1L313.0 586.6L315.0 587.9L317.0 589.1L319.0 590.2L321.0 591.2L323.0 592.0L325.0 592.8L327.0 593.4L329.0 593.8L331.0 594.2L333.0 594.4L335.0 594.6L337.0 594.6L339.0 594.6L341.0 594.4L343.0 594.2L345.0 593.9L347.0 593.5L349.0 593.1L351.0 592.6L353.0 592.1L355.0 591.4L357.0 590.8L359.0 590.0L361.0 589.3L363.0 588.4L365.0 587.5L367.0 586.6L369.0 585.6L371.0 584.6L373.0 583.5L375.0 582.4L377.0 581.3L379.0 580.1L381.0 578.8L383.0 577.6L385.0 576.3L387.0 574.9L389.0 573.6L391.0 572.2L393.0 570.7L395.0 569.3L397.0 567.8L399.0 566.3L401.0 564.7L403.0 563.2L405.0 561.6L407.0 560.0L409.0 558.3L411.0 556.7L413.0 555.0L415.0 553.3L417.0 551.6L419.0 549.8L421.0 548.1L423.0 546.3L425.0 544.4L427.0 542.6L429.0 540.7L431.0 538.7L433.0 536.8L435.0 534.8L437.0 532.8L439.0 530.7L441.0 528.6L443.0 526.5L445.0 524.4L447.0 522.3L449.0 520.1L451.0 517.9L453.0 515.7L455.0 513.5L457.0 511.3L459.0 509.1L461.0 506.8L463.0 504.6L465.0 502.4L467.0 500.1L469.0 497.9L471.0 495.7L473.0 493.5L475.0 491.3L477.0 489.1L479.0 486.9L481.0 484.7L483.0 482.5L485.0 480.3L487.0 478.2L489.0 476.0L491.0 473.9L493.0 471.7L495.0 469.6L497.0 467.5L499.0 465.4L501.0 463.3L503.0 461.2L505.0 459.1L507.0 457.0L509.0 454.9L511.0 452.8L513.0 450.8L515.0 448.7L517.0 446.7L519.0 444.6L521.0 442.6L523.0 440.5L525.0 438.5L527.0 436.4L529.0 434.4L531.0 432.4L533.0 430.4L535.0 428.3L537.0 426.3L539.0 424.3L541.0 422.3L543.0 420.3L545.0 418.3L547.0 416.3L549.0 414.3L551.0 412.3L553.0 410.3L555.0 408.4L557.0 406.4L559.0 404.4L561.0 402.5L563.0 400.5L565.0 398.6L567.0 396.6L569.0 394.7L571.0 392.8L573.0 390.8L575.0 388.9L577.0 387.0L579.0 385.1L581.0 383.2L583.0 381.3L585.0 379.5L587.0 377.6L589.0 375.7L591.0 373.9L593.0 372.0L595.0 370.2L597.0 368.3L599.0 366.5L601.0 364.7L603.0 362.9L605.0 361.1L607.0 359.3L609.0 357.5L611.0 355.7L613.0 354.0L615.0 352.2L617.0 350.5L619.0 348.8L621.0 347.0L623.0 345.3L625.0 343.6L627.0 341.9L629.0 340.2L631.0 338.6L633.0 336.9L635.0 335.3L637.0 333.6L639.0 332.0L641.0 330.4L643.0 328.8L645.0 327.2L647.0 325.6L649.0 324.0L651.0 322.4L653.0 320.9L655.0 319.3L657.0 317.8L659.0 316.3L661.0 314.8L663.0 313.3L665.0 311.8L667.0 310.3L669.0 308.8L671.0 307.4L673.0 305.9L675.0 304.5L677.0 303.1L679.0 301.7L681.0 300.2L683.0 298.9L685.0 297.5L687.0 296.1L689.0 294.8L691.0 293.4L693.0 292.1L695.0 290.7L697.0 289.4L699.0 288.1L701.0 286.8L703.0 285.6L705.0 284.3L707.0 283.0L709.0 281.8L711.0 280.6L713.0 279.3L715.0 278.1L717.0 276.9L719.0 275.8L721.0 274.6L723.0 273.4L725.0 272.3L727.0 271.1L729.0 270.0L731.0 268.9L733.0 267.8L735.0 266.7L737.0 265.6L739.0 264.6L741.0 263.5L743.0 262.5L745.0 261.4L747.0 260.4L749.0 259.4L751.0 258.4L753.0 257.4L755.0 256.5L757.0 255.5L759.0 254.6L761.0 253.6L763.0 252.7L765.0 251.8L767.0 250.9L769.0 250.0L771.0 249.1L773.0 248.2L775.0 247.3L777.0 246.5L779.0 245.6L781.0 244.8L783.0 244.0L785.0 243.1L787.0 242.3L789.0 241.5L791.0 240.7L793.0 239.9L795.0 239.2L797.0 238.4L799.0 237.6L801.0 236.9L803.0 236.2L805.0 235.4L807.0 234.7L809.0 234.0L811.0 233.3L813.0 232.6L815.0 231.9L817.0 231.2L819.0 230.5L821.0 229.8L823.0 229.2L825.0 228.5L827.0 227.9L829.0 227.2L831.0 226.6L833.0 225.9L835.0 225.3L837.0 224.7L839.0 224.1L841.0 223.5L843.0 222.9L845.0 222.3L847.0 221.7L849.0 221.1L851.0 220.5L853.0 220.0L855.0 219.4L857.0 218.8L859.0 218.3L861.0 217.8L863.0 217.2L865.0 216.7L867.0 216.2L869.0 215.6L871.0 215.1L873.0 214.6L875.0 214.1L877.0 213.6L879.0 213.2L881.0 212.7L883.0 212.2L885.0 211.8L887.0 211.3L889.0 210.9L891.0 210.4L893.0 210.0L895.0 209.6L897.0 209.2L899.0 208.8L901.0 208.4L903.0 208.0L905.0 207.6L907.0 207.2L909.0 206.9L911.0 206.5L913.0 206.2L915.0 205.8L917.0 205.5L919.0 205.2L921.0 204.9L923.0 204.6L925.0 204.3L927.0 204.0L929.0 203.7L931.0 203.5L933.0 203.2L935.0 203.0L937.0 202.7L939.0 202.5L941.0 202.3L943.0 202.0L945.0 201.8L947.0 201.6L949.0 201.4L951.0 201.2L953.0 201.1L955.0 200.9L957.0 200.7L959.0 200.5L961.0 200.4L963.0 200.2L965.0 200.1L967.0 199.9L969.0 199.8L971.0 199.6L973.0 199.5L975.0 199.3L977.0 199.2L979.0 199.1L981.0 198.9L983.0 198.8L985.0 198.7L987.0 198.6L989.0 198.5L991.0 198.3L993.0 198.2L995.0 198.1L997.0 198.0L999.0 197.9L1001.0 197.8L1003.0 197.6L1005.0 197.5L1007.0 197.4L1009.0 197.3L1011.0 197.2L1013.0 197.1L1015.0 196.9L1017.0 196.8L1019.0 196.7L1021.0 196.6L1023.0 196.4L1025.0 196.3L1027.0 196.2L1028.7 196.1" stroke="#38aecd"/>
<path d="M97.0 291.0L99.0 294.0L101.0 296.9L103.0 299.9L105.0 302.9L107.0 305.8L109.0 308.8L111.0 311.7L113.0 314.6L115.0 317.6L117.0 320.5L119.0 323.5L121.0 326.4L123.0 329.3L125.0 332.2L127.0 335.2L129.0 338.1L131.0 341.0L133.0 343.9L135.0 346.9L137.0 349.8L139.0 352.7L141.0 355.6L143.0 358.5L145.0 361.4L147.0 364.3L149.0 367.2L151.0 370.1L153.0 373.0L155.0 375.9L157.0 378.8L159.0 381.7L161.0 384.6L163.0 387.5L165.0 390.4L167.0 393.3L169.0 396.1L171.0 399.0L173.0 401.9L175.0 404.8L177.0 407.7L179.0 410.5L181.0 413.4L183.0 416.3L185.0 419.2L187.0 422.0L189.0 424.9L191.0 427.8L193.0 430.6L195.0 433.5L197.0 436.4L199.0 439.2L201.0 442.1L203.0 444.9L205.0 447.8L207.0 450.7L209.0 453.5L211.0 456.4L213.0 459.2L215.0 462.0L217.0 464.9L219.0 467.7L221.0 470.5L223.0 473.3L225.0 476.1L227.0 478.9L229.0 481.7L231.0 484.5L233.0 487.2L235.0 490.0L237.0 492.7L239.0 495.4L241.0 498.1L243.0 500.8L245.0 503.5L247.0 506.2L249.0 508.8L251.0 511.4L253.0 514.0L255.0 516.6L257.0 519.2L259.0 521.7L261.0 524.3L263.0 526.8L265.0 529.3L267.0 531.7L269.0 534.2L271.0 536.6L273.0 539.0L275.0 541.4L277.0 543.8L279.0 546.1L281.0 548.4L283.0 550.7L285.0 552.9L287.0 555.2L289.0 557.4L291.0 559.6L293.0 561.7L295.0 563.8L297.0 565.9L299.0 567.9L301.0 569.8L303.0 571.7L305.0 573.5L307.0 575.2L309.0 576.8L311.0 578.4L313.0 579.8L315.0 581.2L317.0 582.4L319.0 583.5L321.0 584.5L323.0 585.3L325.0 586.0L327.0 586.6L329.0 587.0L331.0 587.4L333.0 587.6L335.0 587.7L337.0 587.8L339.0 587.7L341.0 587.5L343.0 587.3L345.0 587.0L347.0 586.6L349.0 586.1L351.0 585.6L353.0 585.0L355.0 584.3L357.0 583.6L359.0 582.8L361.0 582.0L363.0 581.1L365.0 580.2L367.0 579.2L369.0 578.2L371.0 577.1L373.0 576.0L375.0 574.9L377.0 573.7L379.0 572.5L381.0 571.2L383.0 569.9L385.0 568.6L387.0 567.3L389.0 565.9L391.0 564.5L393.0 563.1L395.0 561.7L397.0 560.2L399.0 558.7L401.0 557.2L403.0 555.7L405.0 554.2L407.0 552.6L409.0 551.1L411.0 549.5L413.0 547.9L415.0 546.2L417.0 544.6L419.0 542.9L421.0 541.2L423.0 539.5L425.0 537.7L427.0 535.9L429.0 534.1L431.0 532.3L433.0 530.4L435.0 528.5L437.0 526.5L439.0 524.5L441.0 522.5L443.0 520.5L445.0 518.5L447.0 516.4L449.0 514.3L451.0 512.2L453.0 510.1L455.0 508.0L457.0 505.8L459.0 503.7L461.0 501.5L463.0 499.4L465.0 497.3L467.0 495.1L469.0 493.0L471.0 490.8L473.0 488.7L475.0 486.6L477.0 484.5L479.0 482.4L481.0 480.2L483.0 478.1L485.0 476.0L487.0 473.9L489.0 471.8L491.0 469.8L493.0 467.7L495.0 465.6L497.0 463.5L499.0 461.5L501.0 459.4L503.0 457.3L505.0 455.3L507.0 453.2L509.0 451.2L511.0 449.1L513.0 447.1L515.0 445.1L517.0 443.1L519.0 441.0L521.0 439.0L523.0 437.0L525.0 435.0L527.0 433.0L529.0 431.0L531.0 429.0L533.0 427.1L535.0 425.1L537.0 423.1L539.0 421.2L541.0 419.2L543.0 417.3L545.0 415.3L547.0 413.4L549.0 411.4L551.0 409.5L553.0 407.6L555.0 405.7L557.0 403.8L559.0 401.9L561.0 400.0L563.0 398.1L565.0 396.2L567.0 394.3L569.0 392.5L571.0 390.6L573.0 388.8L575.0 386.9L577.0 385.1L579.0 383.2L581.0 381.4L583.0 379.6L585.0 377.8L587.0 376.0L589.0 374.2L591.0 372.4L593.0 370.6L595.0 368.8L597.0 367.0L599.0 365.3L601.0 363.5L603.0 361.8L605.0 360.0L607.0 358.3L609.0 356.6L611.0 354.9L613.0 353.1L615.0 351.4L617.0 349.8L619.0 348.1L621.0 346.4L623.0 344.7L625.0 343.1L627.0 341.4L629.0 339.8L631.0 338.1L633.0 336.5L635.0 334.9L637.0 333.3L639.0 331.7L641.0 330.1L643.0 328.5L645.0 326.9L647.0 325.3L649.0 323.8L651.0 322.2L653.0 320.7L655.0 319.2L657.0 317.6L659.0 316.1L661.0 314.6L663.0 313.1L665.0 311.6L667.0 310.2L669.0 308.7L671.0 307.3L673.0 305.8L675.0 304.4L677.0 303.0L679.0 301.5L681.0 300.1L683.0 298.8L685.0 297.4L687.0 296.0L689.0 294.6L691.0 293.3L693.0 292.0L695.0 290.6L697.0 289.3L699.0 288.0L701.0 286.7L703.0 285.4L705.0 284.2L707.0 282.9L709.0 281.6L711.0 280.4L713.0 279.2L715.0 278.0L717.0 276.8L719.0 275.6L721.0 274.4L723.0 273.2L725.0 272.1L727.0 270.9L729.0 269.8L731.0 268.7L733.0 267.6L735.0 266.5L737.0 265.4L739.0 264.4L741.0 263.3L743.0 262.3L745.0 261.2L747.0 260.2L749.0 259.2L751.0 258.2L753.0 257.2L755.0 256.3L757.0 255.3L759.0 254.4L761.0 253.4L763.0 252.5L765.0 251.6L767.0 250.7L769.0 249.8L771.0 248.9L773.0 248.0L775.0 247.2L777.0 246.3L779.0 245.5L781.0 244.6L783.0 243.8L785.0 243.0L787.0 242.2L789.0 241.4L791.0 240.6L793.0 239.8L795.0 239.1L797.0 238.3L799.0 237.5L801.0 236.8L803.0 236.1L805.0 235.3L807.0 234.6L809.0 233.9L811.0 233.2L813.0 232.5L815.0 231.8L817.0 231.1L819.0 230.5L821.0 229.8L823.0 229.1L825.0 228.5L827.0 227.8L829.0 227.2L831.0 226.6L833.0 225.9L835.0 225.3L837.0 224.7L839.0 224.1L841.0 223.5L843.0 222.9L845.0 222.3L847.0 221.7L849.0 221.1L851.0 220.5L853.0 219.9L855.0 219.4L857.0 218.8L859.0 218.3L861.0 217.7L863.0 217.2L865.0 216.6L867.0 216.1L869.0 215.6L871.0 215.1L873.0 214.6L875.0 214.1L877.0 213.6L879.0 213.1L881.0 212.6L883.0 212.1L885.0 211.7L887.0 211.2L889.0 210.8L891.0 210.3L893.0 209.9L895.0 209.5L897.0 209.1L899.0 208.6L901.0 208.2L903.0 207.9L905.0 207.5L907.0 207.1L909.0 206.7L911.0 206.4L913.0 206.0L915.0 205.7L917.0 205.4L919.0 205.1L921.0 204.8L923.0 204.5L925.0 204.2L927.0 203.9L929.0 203.6L931.0 203.4L933.0 203.1L935.0 202.9L937.0 202.7L939.0 202.4L941.0 202.2L943.0 202.0L945.0 201.8L947.0 201.6L949.0 201.4L951.0 201.2L953.0 201.1L955.0 200.9L957.0 200.7L959.0 200.6L961.0 200.4L963.0 200.3L965.0 200.1L967.0 200.0L969.0 199.8L971.0 199.7L973.0 199.6L975.0 199.4L977.0 199.3L979.0 199.2L981.0 199.1L983.0 198.9L985.0 198.8L987.0 198.7L989.0 198.6L991.0 198.5L993.0 198.4L995.0 198.2L997.0 198.1L999.0 198.0L1001.0 197.9L1003.0 197.8L1005.0 197.6L1007.0 197.5L1009.0 197.4L1011.0 197.3L1013.0 197.1L1015.0 197.0L1017.0 196.9L1019.0 196.7L1021.0 196.6L1023.0 196.4L1025.0 196.3L1027.0 196.1L1028.7 196.0" stroke="#eb8431"/>
</g>
<text class="n" transform="translate(70.64 151.57) scale(1 1.0350)" x="0" y="0" font-size="51.00">-1</text>
<text class="n" transform="translate(316.65 151.42) scale(1 1.0350)" x="0" y="0" font-size="51.00">0</text>
<text class="n" transform="translate(551.09 152.67) scale(1 1.0350)" x="0" y="0" font-size="51.00">1</text>
<text class="n" transform="translate(785.76 152.67) scale(1 1.0350)" x="0" y="0" font-size="51.00">2</text>
<text class="n" transform="translate(1020.35 152.67) scale(1 1.0350)" x="0" y="0" font-size="51.00">3</text>
<text class="n" transform="translate(217.08 112.92) scale(1 1.0350)" x="0" y="0" font-size="51.00">-10</text>
<text class="n" transform="translate(259.60 211.27) scale(1 1.0350)" x="0" y="0" font-size="51.00">0</text>
<text class="n" transform="translate(233.73 312.12) scale(1 1.0350)" x="0" y="0" font-size="51.00">100</text>
<text class="n" transform="translate(233.20 412.07) scale(1 1.0350)" x="0" y="0" font-size="51.00">200</text>
<text class="n" transform="translate(234.80 511.67) scale(1 1.0350)" x="0" y="0" font-size="51.00">300</text>
<text class="n" transform="translate(234.81 610.67) scale(1 1.0350)" x="0" y="0" font-size="51.00">400</text>
<text class="n" transform="translate(232.89 709.17) scale(1 1.0350)" x="0" y="0" font-size="51.00">500</text>
<text class="n" transform="translate(234.00 808.52) scale(1 1.0350)" x="0" y="0" font-size="51.00">600</text>
<line x1="49.5" y1="877.1" x2="119.5" y2="877.1" stroke="#3068aa" stroke-width="6" stroke-linecap="round"/>
<text class="n lg" transform="translate(124.44 890.90) scale(1 0.9600)" x="0" y="0" font-size="50.50">3 000 MPa</text>
<line x1="398.0" y1="877.1" x2="468.0" y2="877.1" stroke="#b3322f" stroke-width="6" stroke-linecap="round"/>
<text class="n lg" transform="translate(474.14 890.90) scale(1 0.9600)" x="0" y="0" font-size="50.50">6 000 MPa</text>
<line x1="745.0" y1="876.9" x2="815.0" y2="876.9" stroke="#88aa45" stroke-width="6" stroke-linecap="round"/>
<text class="n lg" transform="translate(821.39 891.60) scale(1 0.9600)" x="0" y="0" font-size="50.50">9 000 MPa</text>
<line x1="49.5" y1="929.1" x2="119.5" y2="929.1" stroke="#644289" stroke-width="6" stroke-linecap="round"/>
<text class="n lg" transform="translate(126.26 944.60) scale(1 0.9600)" x="0" y="0" font-size="50.50">12,000 MPa</text>
<line x1="398.0" y1="929.1" x2="468.0" y2="929.1" stroke="#2a93ad" stroke-width="6" stroke-linecap="round"/>
<text class="n lg" transform="translate(474.76 944.60) scale(1 0.9600)" x="0" y="0" font-size="50.50">15,000 MPa</text>
<line x1="745.0" y1="929.8" x2="815.0" y2="929.8" stroke="#e07627" stroke-width="6" stroke-linecap="round"/>
<text class="n lg" transform="translate(822.41 942.70) scale(1 0.9600)" x="0" y="0" font-size="50.50">18,000 MPa</text>
</g>
<g id="right">
<text class="t" transform="translate(1816.35 54.80) scale(1 1.0100)" x="0" y="0" font-size="45.56">Distance from load (m)</text>
<text class="t" transform="translate(1273.15 611.54) rotate(-90) scale(1 0.9829)" x="0" y="0" font-size="46.57">Deflection (µm)</text>
<line x1="1285" y1="90.7" x2="2312" y2="90.7" stroke="#b6b6b6" stroke-width="3.4"/>
<line x1="1284.5" y1="188.0" x2="2279" y2="188.0" stroke="#b6b6b6" stroke-width="3.4"/>
<line x1="1320.5" y1="284.3" x2="2279" y2="284.3" stroke="#b6b6b6" stroke-width="3.4"/>
<line x1="1320.5" y1="380.7" x2="2279" y2="380.7" stroke="#b6b6b6" stroke-width="3.4"/>
<line x1="1320.5" y1="477.0" x2="2279" y2="477.0" stroke="#b6b6b6" stroke-width="3.4"/>
<line x1="1320.5" y1="573.3" x2="2279" y2="573.3" stroke="#b6b6b6" stroke-width="3.4"/>
<line x1="1320.5" y1="669.7" x2="2279" y2="669.7" stroke="#b6b6b6" stroke-width="3.4"/>
<line x1="1284.5" y1="766.0" x2="2279" y2="766.0" stroke="#b6b6b6" stroke-width="3.4"/>
<line x1="1284.2" y1="174" x2="1284.2" y2="188" stroke="#b0b0b0" stroke-width="2"/>
<line x1="1533.0" y1="174" x2="1533.0" y2="188" stroke="#b0b0b0" stroke-width="2"/>
<line x1="1781.8" y1="174" x2="1781.8" y2="188" stroke="#b0b0b0" stroke-width="2"/>
<line x1="2030.6" y1="174" x2="2030.6" y2="188" stroke="#b0b0b0" stroke-width="2"/>
<line x1="2279.4" y1="174" x2="2279.4" y2="188" stroke="#b0b0b0" stroke-width="2"/>
<line x1="1533" y1="92" x2="1533" y2="766" stroke="#b0b0b0" stroke-width="3"/>
<g fill="none" stroke-width="4.8" stroke-linejoin="round" stroke-linecap="round">
<path d="M1285.6 189 Q1289.5 205 1297 216" stroke="#3f78c4" stroke-linecap="round"/>
<g clip-path="url(#cr)">
<path d="M1322.5 278.8L1324.5 283.4L1326.5 288.0L1328.5 292.6L1330.5 297.2L1332.5 301.9L1334.5 306.6L1336.5 311.3L1338.5 316.0L1340.5 320.8L1342.5 325.6L1344.5 330.3L1346.5 335.2L1348.5 340.0L1350.5 344.8L1352.5 349.7L1354.5 354.5L1356.5 359.4L1358.5 364.2L1360.5 369.1L1362.5 374.0L1364.5 378.8L1366.5 383.7L1368.5 388.6L1370.5 393.4L1372.5 398.3L1374.5 403.1L1376.5 407.9L1378.5 412.7L1380.5 417.6L1382.5 422.4L1384.5 427.1L1386.5 431.9L1388.5 436.7L1390.5 441.4L1392.5 446.1L1394.5 450.8L1396.5 455.5L1398.5 460.2L1400.5 464.9L1402.5 469.5L1404.5 474.2L1406.5 478.8L1408.5 483.3L1410.5 487.9L1412.5 492.5L1414.5 497.0L1416.5 501.5L1418.5 506.0L1420.5 510.4L1422.5 514.8L1424.5 519.2L1426.5 523.6L1428.5 528.0L1430.5 532.3L1432.5 536.6L1434.5 540.8L1436.5 545.1L1438.5 549.3L1440.5 553.5L1442.5 557.6L1444.5 561.7L1446.5 565.8L1448.5 569.9L1450.5 573.9L1452.5 577.9L1454.5 581.8L1456.5 585.7L1458.5 589.6L1460.5 593.5L1462.5 597.3L1464.5 601.0L1466.5 604.8L1468.5 608.4L1470.5 612.1L1472.5 615.7L1474.5 619.3L1476.5 622.8L1478.5 626.3L1480.5 629.7L1482.5 633.1L1484.5 636.5L1486.5 639.7L1488.5 643.0L1490.5 646.2L1492.5 649.3L1494.5 652.4L1496.5 655.4L1498.5 658.3L1500.5 661.2L1502.5 663.9L1504.5 666.7L1506.5 669.3L1508.5 671.9L1510.5 674.4L1512.5 676.8L1514.5 679.1L1516.5 681.3L1518.5 683.4L1520.5 685.5L1522.5 687.4L1524.5 689.3L1526.5 691.0L1528.5 692.7L1530.5 694.2L1532.5 695.7L1534.5 697.0L1536.5 698.2L1538.5 699.3L1540.5 700.3L1542.5 701.2L1544.5 702.0L1546.5 702.7L1548.5 703.3L1550.5 703.8L1552.5 704.2L1554.5 704.5L1556.5 704.7L1558.5 704.9L1560.5 704.9L1562.5 704.9L1564.5 704.8L1566.5 704.6L1568.5 704.3L1570.5 704.0L1572.5 703.6L1574.5 703.1L1576.5 702.6L1578.5 701.9L1580.5 701.3L1582.5 700.5L1584.5 699.7L1586.5 698.9L1588.5 698.0L1590.5 697.0L1592.5 696.0L1594.5 694.9L1596.5 693.8L1598.5 692.6L1600.5 691.4L1602.5 690.1L1604.5 688.8L1606.5 687.4L1608.5 686.0L1610.5 684.5L1612.5 683.0L1614.5 681.5L1616.5 679.9L1618.5 678.3L1620.5 676.6L1622.5 674.9L1624.5 673.1L1626.5 671.4L1628.5 669.6L1630.5 667.7L1632.5 665.8L1634.5 663.9L1636.5 662.0L1638.5 660.0L1640.5 658.1L1642.5 656.0L1644.5 654.0L1646.5 651.9L1648.5 649.9L1650.5 647.8L1652.5 645.6L1654.5 643.5L1656.5 641.3L1658.5 639.2L1660.5 637.0L1662.5 634.8L1664.5 632.5L1666.5 630.3L1668.5 628.1L1670.5 625.8L1672.5 623.6L1674.5 621.3L1676.5 619.0L1678.5 616.8L1680.5 614.5L1682.5 612.2L1684.5 609.9L1686.5 607.6L1688.5 605.3L1690.5 603.0L1692.5 600.7L1694.5 598.4L1696.5 596.1L1698.5 593.8L1700.5 591.5L1702.5 589.2L1704.5 586.8L1706.5 584.5L1708.5 582.2L1710.5 579.8L1712.5 577.5L1714.5 575.2L1716.5 572.8L1718.5 570.5L1720.5 568.1L1722.5 565.8L1724.5 563.4L1726.5 561.1L1728.5 558.7L1730.5 556.3L1732.5 554.0L1734.5 551.6L1736.5 549.2L1738.5 546.9L1740.5 544.5L1742.5 542.1L1744.5 539.8L1746.5 537.4L1748.5 535.0L1750.5 532.7L1752.5 530.3L1754.5 527.9L1756.5 525.6L1758.5 523.2L1760.5 520.8L1762.5 518.4L1764.5 516.1L1766.5 513.7L1768.5 511.3L1770.5 509.0L1772.5 506.6L1774.5 504.2L1776.5 501.9L1778.5 499.5L1780.5 497.2L1782.5 494.8L1784.5 492.4L1786.5 490.1L1788.5 487.7L1790.5 485.4L1792.5 483.0L1794.5 480.7L1796.5 478.3L1798.5 476.0L1800.5 473.6L1802.5 471.3L1804.5 469.0L1806.5 466.6L1808.5 464.3L1810.5 462.0L1812.5 459.7L1814.5 457.4L1816.5 455.1L1818.5 452.7L1820.5 450.4L1822.5 448.1L1824.5 445.8L1826.5 443.6L1828.5 441.3L1830.5 439.0L1832.5 436.7L1834.5 434.4L1836.5 432.2L1838.5 429.9L1840.5 427.7L1842.5 425.4L1844.5 423.2L1846.5 420.9L1848.5 418.7L1850.5 416.5L1852.5 414.2L1854.5 412.0L1856.5 409.8L1858.5 407.6L1860.5 405.4L1862.5 403.2L1864.5 401.0L1866.5 398.9L1868.5 396.7L1870.5 394.5L1872.5 392.4L1874.5 390.2L1876.5 388.1L1878.5 386.0L1880.5 383.9L1882.5 381.7L1884.5 379.6L1886.5 377.5L1888.5 375.5L1890.5 373.4L1892.5 371.3L1894.5 369.2L1896.5 367.2L1898.5 365.2L1900.5 363.1L1902.5 361.1L1904.5 359.1L1906.5 357.1L1908.5 355.1L1910.5 353.1L1912.5 351.1L1914.5 349.1L1916.5 347.2L1918.5 345.2L1920.5 343.3L1922.5 341.4L1924.5 339.5L1926.5 337.6L1928.5 335.7L1930.5 333.8L1932.5 331.9L1934.5 330.1L1936.5 328.2L1938.5 326.4L1940.5 324.6L1942.5 322.8L1944.5 321.0L1946.5 319.2L1948.5 317.4L1950.5 315.7L1952.5 313.9L1954.5 312.2L1956.5 310.5L1958.5 308.7L1960.5 307.1L1962.5 305.4L1964.5 303.7L1966.5 302.0L1968.5 300.4L1970.5 298.8L1972.5 297.2L1974.5 295.6L1976.5 294.0L1978.5 292.4L1980.5 290.9L1982.5 289.3L1984.5 287.8L1986.5 286.3L1988.5 284.8L1990.5 283.3L1992.5 281.8L1994.5 280.4L1996.5 278.9L1998.5 277.5L2000.5 276.1L2002.5 274.7L2004.5 273.3L2006.5 272.0L2008.5 270.7L2010.5 269.3L2012.5 268.0L2014.5 266.7L2016.5 265.5L2018.5 264.2L2020.5 263.0L2022.5 261.7L2024.5 260.5L2026.5 259.3L2028.5 258.1L2030.5 257.0L2032.5 255.8L2034.5 254.7L2036.5 253.6L2038.5 252.5L2040.5 251.4L2042.5 250.3L2044.5 249.2L2046.5 248.2L2048.5 247.1L2050.5 246.1L2052.5 245.1L2054.5 244.1L2056.5 243.1L2058.5 242.2L2060.5 241.2L2062.5 240.3L2064.5 239.4L2066.5 238.4L2068.5 237.5L2070.5 236.6L2072.5 235.8L2074.5 234.9L2076.5 234.0L2078.5 233.2L2080.5 232.4L2082.5 231.6L2084.5 230.7L2086.5 230.0L2088.5 229.2L2090.5 228.4L2092.5 227.6L2094.5 226.9L2096.5 226.1L2098.5 225.4L2100.5 224.7L2102.5 224.0L2104.5 223.3L2106.5 222.6L2108.5 221.9L2110.5 221.2L2112.5 220.6L2114.5 219.9L2116.5 219.3L2118.5 218.7L2120.5 218.0L2122.5 217.4L2124.5 216.8L2126.5 216.2L2128.5 215.6L2130.5 215.0L2132.5 214.5L2134.5 213.9L2136.5 213.3L2138.5 212.8L2140.5 212.3L2142.5 211.7L2144.5 211.2L2146.5 210.7L2148.5 210.2L2150.5 209.7L2152.5 209.2L2154.5 208.7L2156.5 208.2L2158.5 207.7L2160.5 207.2L2162.5 206.8L2164.5 206.3L2166.5 205.8L2168.5 205.4L2170.5 205.0L2172.5 204.5L2174.5 204.1L2176.5 203.7L2178.5 203.2L2180.5 202.8L2182.5 202.4L2184.5 202.0L2186.5 201.6L2188.5 201.2L2190.5 200.8L2192.5 200.4L2194.5 200.0L2196.5 199.6L2198.5 199.3L2200.5 198.9L2202.5 198.5L2204.5 198.1L2206.5 197.8L2208.5 197.4L2210.5 197.0L2212.5 196.7L2214.5 196.3L2216.5 196.0L2218.5 195.6L2220.5 195.3L2222.5 194.9L2224.5 194.6L2226.5 194.2L2228.5 193.9L2230.5 193.6L2232.5 193.2L2234.5 192.9L2236.5 192.5L2238.5 192.2L2240.5 191.9L2242.5 191.5L2244.5 191.2L2246.5 190.9L2248.5 190.5L2250.5 190.2L2252.5 189.9L2254.5 189.5L2256.5 189.2L2258.5 188.9L2260.5 188.5L2262.5 188.2L2264.5 187.9L2266.5 187.5L2268.5 187.2L2270.0 186.9" stroke="#3f78c4"/>
<path d="M1321.2 331.8L1323.2 334.2L1325.2 336.6L1327.2 339.0L1329.2 341.5L1331.2 344.0L1333.2 346.5L1335.2 349.0L1337.2 351.5L1339.2 354.1L1341.2 356.7L1343.2 359.3L1345.2 362.0L1347.2 364.6L1349.2 367.3L1351.2 370.0L1353.2 372.7L1355.2 375.4L1357.2 378.1L1359.2 380.9L1361.2 383.7L1363.2 386.4L1365.2 389.2L1367.2 392.0L1369.2 394.8L1371.2 397.7L1373.2 400.5L1375.2 403.3L1377.2 406.2L1379.2 409.0L1381.2 411.9L1383.2 414.7L1385.2 417.6L1387.2 420.4L1389.2 423.3L1391.2 426.2L1393.2 429.0L1395.2 431.9L1397.2 434.8L1399.2 437.6L1401.2 440.5L1403.2 443.3L1405.2 446.2L1407.2 449.0L1409.2 451.9L1411.2 454.7L1413.2 457.5L1415.2 460.4L1417.2 463.2L1419.2 466.0L1421.2 468.9L1423.2 471.7L1425.2 474.5L1427.2 477.3L1429.2 480.1L1431.2 483.0L1433.2 485.8L1435.2 488.6L1437.2 491.4L1439.2 494.2L1441.2 497.0L1443.2 499.8L1445.2 502.6L1447.2 505.4L1449.2 508.2L1451.2 511.0L1453.2 513.8L1455.2 516.6L1457.2 519.3L1459.2 522.1L1461.2 524.9L1463.2 527.6L1465.2 530.4L1467.2 533.1L1469.2 535.7L1471.2 538.4L1473.2 541.0L1475.2 543.6L1477.2 546.1L1479.2 548.6L1481.2 551.0L1483.2 553.3L1485.2 555.6L1487.2 557.8L1489.2 560.0L1491.2 562.1L1493.2 564.1L1495.2 566.0L1497.2 567.8L1499.2 569.5L1501.2 571.2L1503.2 572.7L1505.2 574.2L1507.2 575.6L1509.2 576.8L1511.2 578.0L1513.2 579.2L1515.2 580.2L1517.2 581.2L1519.2 582.0L1521.2 582.8L1523.2 583.6L1525.2 584.2L1527.2 584.8L1529.2 585.3L1531.2 585.7L1533.2 586.0L1535.2 586.3L1537.2 586.5L1539.2 586.6L1541.2 586.7L1543.2 586.7L1545.2 586.6L1547.2 586.5L1549.2 586.3L1551.2 586.0L1553.2 585.7L1555.2 585.3L1557.2 584.9L1559.2 584.3L1561.2 583.8L1563.2 583.2L1565.2 582.5L1567.2 581.8L1569.2 581.0L1571.2 580.1L1573.2 579.2L1575.2 578.3L1577.2 577.3L1579.2 576.3L1581.2 575.2L1583.2 574.1L1585.2 572.9L1587.2 571.7L1589.2 570.4L1591.2 569.1L1593.2 567.7L1595.2 566.4L1597.2 564.9L1599.2 563.5L1601.2 562.0L1603.2 560.4L1605.2 558.9L1607.2 557.3L1609.2 555.6L1611.2 554.0L1613.2 552.3L1615.2 550.5L1617.2 548.8L1619.2 547.0L1621.2 545.2L1623.2 543.4L1625.2 541.5L1627.2 539.6L1629.2 537.7L1631.2 535.8L1633.2 533.9L1635.2 531.9L1637.2 529.9L1639.2 528.0L1641.2 525.9L1643.2 523.9L1645.2 521.9L1647.2 519.8L1649.2 517.8L1651.2 515.7L1653.2 513.6L1655.2 511.6L1657.2 509.5L1659.2 507.4L1661.2 505.3L1663.2 503.2L1665.2 501.1L1667.2 498.9L1669.2 496.8L1671.2 494.7L1673.2 492.6L1675.2 490.5L1677.2 488.4L1679.2 486.3L1681.2 484.2L1683.2 482.1L1685.2 480.1L1687.2 478.0L1689.2 475.9L1691.2 473.8L1693.2 471.8L1695.2 469.7L1697.2 467.6L1699.2 465.6L1701.2 463.5L1703.2 461.5L1705.2 459.4L1707.2 457.4L1709.2 455.4L1711.2 453.4L1713.2 451.3L1715.2 449.3L1717.2 447.3L1719.2 445.3L1721.2 443.3L1723.2 441.3L1725.2 439.3L1727.2 437.3L1729.2 435.4L1731.2 433.4L1733.2 431.4L1735.2 429.4L1737.2 427.5L1739.2 425.5L1741.2 423.6L1743.2 421.7L1745.2 419.7L1747.2 417.8L1749.2 415.9L1751.2 414.0L1753.2 412.0L1755.2 410.1L1757.2 408.2L1759.2 406.4L1761.2 404.5L1763.2 402.6L1765.2 400.7L1767.2 398.9L1769.2 397.0L1771.2 395.1L1773.2 393.3L1775.2 391.5L1777.2 389.6L1779.2 387.8L1781.2 386.0L1783.2 384.2L1785.2 382.4L1787.2 380.6L1789.2 378.8L1791.2 377.0L1793.2 375.2L1795.2 373.5L1797.2 371.7L1799.2 370.0L1801.2 368.2L1803.2 366.5L1805.2 364.8L1807.2 363.1L1809.2 361.3L1811.2 359.6L1813.2 357.9L1815.2 356.3L1817.2 354.6L1819.2 352.9L1821.2 351.2L1823.2 349.6L1825.2 347.9L1827.2 346.3L1829.2 344.7L1831.2 343.1L1833.2 341.5L1835.2 339.8L1837.2 338.3L1839.2 336.7L1841.2 335.1L1843.2 333.5L1845.2 332.0L1847.2 330.4L1849.2 328.9L1851.2 327.4L1853.2 325.8L1855.2 324.3L1857.2 322.8L1859.2 321.3L1861.2 319.8L1863.2 318.4L1865.2 316.9L1867.2 315.5L1869.2 314.0L1871.2 312.6L1873.2 311.2L1875.2 309.7L1877.2 308.3L1879.2 306.9L1881.2 305.6L1883.2 304.2L1885.2 302.8L1887.2 301.5L1889.2 300.1L1891.2 298.8L1893.2 297.5L1895.2 296.2L1897.2 294.9L1899.2 293.6L1901.2 292.3L1903.2 291.0L1905.2 289.8L1907.2 288.5L1909.2 287.3L1911.2 286.1L1913.2 284.9L1915.2 283.7L1917.2 282.5L1919.2 281.3L1921.2 280.1L1923.2 279.0L1925.2 277.8L1927.2 276.7L1929.2 275.5L1931.2 274.4L1933.2 273.3L1935.2 272.2L1937.2 271.1L1939.2 270.1L1941.2 269.0L1943.2 267.9L1945.2 266.9L1947.2 265.9L1949.2 264.8L1951.2 263.8L1953.2 262.8L1955.2 261.8L1957.2 260.8L1959.2 259.8L1961.2 258.9L1963.2 257.9L1965.2 257.0L1967.2 256.0L1969.2 255.1L1971.2 254.2L1973.2 253.3L1975.2 252.4L1977.2 251.5L1979.2 250.6L1981.2 249.7L1983.2 248.8L1985.2 248.0L1987.2 247.1L1989.2 246.3L1991.2 245.5L1993.2 244.6L1995.2 243.8L1997.2 243.0L1999.2 242.2L2001.2 241.4L2003.2 240.6L2005.2 239.9L2007.2 239.1L2009.2 238.4L2011.2 237.6L2013.2 236.9L2015.2 236.1L2017.2 235.4L2019.2 234.7L2021.2 234.0L2023.2 233.3L2025.2 232.6L2027.2 231.9L2029.2 231.2L2031.2 230.6L2033.2 229.9L2035.2 229.2L2037.2 228.6L2039.2 228.0L2041.2 227.3L2043.2 226.7L2045.2 226.1L2047.2 225.5L2049.2 224.9L2051.2 224.3L2053.2 223.7L2055.2 223.1L2057.2 222.5L2059.2 222.0L2061.2 221.4L2063.2 220.8L2065.2 220.3L2067.2 219.7L2069.2 219.2L2071.2 218.7L2073.2 218.1L2075.2 217.6L2077.2 217.1L2079.2 216.6L2081.2 216.1L2083.2 215.6L2085.2 215.1L2087.2 214.7L2089.2 214.2L2091.2 213.7L2093.2 213.2L2095.2 212.8L2097.2 212.3L2099.2 211.9L2101.2 211.4L2103.2 211.0L2105.2 210.6L2107.2 210.2L2109.2 209.7L2111.2 209.3L2113.2 208.9L2115.2 208.5L2117.2 208.1L2119.2 207.7L2121.2 207.3L2123.2 206.9L2125.2 206.6L2127.2 206.2L2129.2 205.8L2131.2 205.5L2133.2 205.1L2135.2 204.7L2137.2 204.4L2139.2 204.1L2141.2 203.7L2143.2 203.4L2145.2 203.0L2147.2 202.7L2149.2 202.4L2151.2 202.1L2153.2 201.8L2155.2 201.4L2157.2 201.1L2159.2 200.8L2161.2 200.5L2163.2 200.2L2165.2 199.9L2167.2 199.6L2169.2 199.4L2171.2 199.1L2173.2 198.8L2175.2 198.5L2177.2 198.3L2179.2 198.0L2181.2 197.7L2183.2 197.5L2185.2 197.2L2187.2 197.0L2189.2 196.7L2191.2 196.4L2193.2 196.2L2195.2 196.0L2197.2 195.7L2199.2 195.5L2201.2 195.2L2203.2 195.0L2205.2 194.8L2207.2 194.6L2209.2 194.3L2211.2 194.1L2213.2 193.9L2215.2 193.7L2217.2 193.5L2219.2 193.2L2221.2 193.0L2223.2 192.8L2225.2 192.6L2227.2 192.4L2229.2 192.2L2231.2 192.0L2233.2 191.8L2235.2 191.6L2237.2 191.4L2239.2 191.2L2241.2 191.0L2243.2 190.8L2245.2 190.7L2247.2 190.5L2249.2 190.3L2251.2 190.1L2253.2 189.9L2255.2 189.7L2257.2 189.6L2259.2 189.4L2261.2 189.2L2263.2 189.0L2265.2 188.8L2267.2 188.7L2269.2 188.5L2270.0 188.4" stroke="#c53d3a"/>
<path d="M1321.2 317.4L1323.2 319.3L1325.2 321.2L1327.2 323.2L1329.2 325.1L1331.2 327.0L1333.2 328.9L1335.2 330.8L1337.2 332.8L1339.2 334.7L1341.2 336.6L1343.2 338.6L1345.2 340.5L1347.2 342.5L1349.2 344.4L1351.2 346.4L1353.2 348.3L1355.2 350.3L1357.2 352.3L1359.2 354.3L1361.2 356.3L1363.2 358.2L1365.2 360.2L1367.2 362.3L1369.2 364.3L1371.2 366.3L1373.2 368.3L1375.2 370.4L1377.2 372.4L1379.2 374.5L1381.2 376.5L1383.2 378.6L1385.2 380.7L1387.2 382.8L1389.2 384.9L1391.2 387.0L1393.2 389.1L1395.2 391.2L1397.2 393.3L1399.2 395.5L1401.2 397.6L1403.2 399.8L1405.2 402.0L1407.2 404.2L1409.2 406.4L1411.2 408.6L1413.2 410.8L1415.2 413.0L1417.2 415.3L1419.2 417.5L1421.2 419.8L1423.2 422.1L1425.2 424.4L1427.2 426.7L1429.2 429.0L1431.2 431.3L1433.2 433.7L1435.2 436.0L1437.2 438.4L1439.2 440.7L1441.2 443.0L1443.2 445.4L1445.2 447.7L1447.2 450.1L1449.2 452.4L1451.2 454.7L1453.2 457.0L1455.2 459.3L1457.2 461.5L1459.2 463.8L1461.2 466.0L1463.2 468.2L1465.2 470.3L1467.2 472.4L1469.2 474.5L1471.2 476.6L1473.2 478.6L1475.2 480.6L1477.2 482.6L1479.2 484.5L1481.2 486.3L1483.2 488.1L1485.2 489.9L1487.2 491.6L1489.2 493.3L1491.2 494.8L1493.2 496.4L1495.2 497.9L1497.2 499.3L1499.2 500.6L1501.2 501.9L1503.2 503.1L1505.2 504.2L1507.2 505.3L1509.2 506.3L1511.2 507.2L1513.2 508.0L1515.2 508.7L1517.2 509.4L1519.2 510.0L1521.2 510.5L1523.2 510.9L1525.2 511.3L1527.2 511.6L1529.2 511.8L1531.2 512.0L1533.2 512.1L1535.2 512.1L1537.2 512.0L1539.2 511.9L1541.2 511.7L1543.2 511.5L1545.2 511.2L1547.2 510.8L1549.2 510.4L1551.2 509.9L1553.2 509.4L1555.2 508.8L1557.2 508.2L1559.2 507.5L1561.2 506.7L1563.2 505.9L1565.2 505.1L1567.2 504.2L1569.2 503.3L1571.2 502.3L1573.2 501.3L1575.2 500.2L1577.2 499.1L1579.2 498.0L1581.2 496.8L1583.2 495.6L1585.2 494.3L1587.2 493.0L1589.2 491.7L1591.2 490.4L1593.2 489.0L1595.2 487.6L1597.2 486.1L1599.2 484.7L1601.2 483.2L1603.2 481.7L1605.2 480.1L1607.2 478.6L1609.2 477.0L1611.2 475.4L1613.2 473.8L1615.2 472.2L1617.2 470.5L1619.2 468.9L1621.2 467.2L1623.2 465.5L1625.2 463.8L1627.2 462.1L1629.2 460.4L1631.2 458.7L1633.2 457.0L1635.2 455.2L1637.2 453.5L1639.2 451.8L1641.2 450.0L1643.2 448.3L1645.2 446.5L1647.2 444.8L1649.2 443.0L1651.2 441.2L1653.2 439.5L1655.2 437.7L1657.2 435.9L1659.2 434.1L1661.2 432.4L1663.2 430.6L1665.2 428.8L1667.2 427.0L1669.2 425.2L1671.2 423.4L1673.2 421.6L1675.2 419.9L1677.2 418.1L1679.2 416.3L1681.2 414.5L1683.2 412.7L1685.2 410.9L1687.2 409.2L1689.2 407.4L1691.2 405.6L1693.2 403.8L1695.2 402.1L1697.2 400.3L1699.2 398.5L1701.2 396.8L1703.2 395.0L1705.2 393.3L1707.2 391.6L1709.2 389.8L1711.2 388.1L1713.2 386.4L1715.2 384.6L1717.2 382.9L1719.2 381.2L1721.2 379.5L1723.2 377.8L1725.2 376.2L1727.2 374.5L1729.2 372.8L1731.2 371.2L1733.2 369.5L1735.2 367.9L1737.2 366.2L1739.2 364.6L1741.2 363.0L1743.2 361.4L1745.2 359.8L1747.2 358.2L1749.2 356.7L1751.2 355.1L1753.2 353.6L1755.2 352.0L1757.2 350.5L1759.2 349.0L1761.2 347.5L1763.2 346.0L1765.2 344.5L1767.2 343.0L1769.2 341.5L1771.2 340.1L1773.2 338.6L1775.2 337.2L1777.2 335.7L1779.2 334.3L1781.2 332.9L1783.2 331.5L1785.2 330.1L1787.2 328.7L1789.2 327.3L1791.2 326.0L1793.2 324.6L1795.2 323.2L1797.2 321.9L1799.2 320.6L1801.2 319.2L1803.2 317.9L1805.2 316.6L1807.2 315.3L1809.2 314.0L1811.2 312.8L1813.2 311.5L1815.2 310.2L1817.2 309.0L1819.2 307.7L1821.2 306.5L1823.2 305.3L1825.2 304.1L1827.2 302.9L1829.2 301.7L1831.2 300.5L1833.2 299.3L1835.2 298.1L1837.2 297.0L1839.2 295.8L1841.2 294.6L1843.2 293.5L1845.2 292.4L1847.2 291.3L1849.2 290.1L1851.2 289.0L1853.2 287.9L1855.2 286.8L1857.2 285.8L1859.2 284.7L1861.2 283.6L1863.2 282.6L1865.2 281.5L1867.2 280.5L1869.2 279.4L1871.2 278.4L1873.2 277.4L1875.2 276.4L1877.2 275.4L1879.2 274.4L1881.2 273.4L1883.2 272.4L1885.2 271.5L1887.2 270.5L1889.2 269.5L1891.2 268.6L1893.2 267.6L1895.2 266.7L1897.2 265.8L1899.2 264.9L1901.2 264.0L1903.2 263.1L1905.2 262.2L1907.2 261.3L1909.2 260.4L1911.2 259.5L1913.2 258.6L1915.2 257.8L1917.2 256.9L1919.2 256.1L1921.2 255.2L1923.2 254.4L1925.2 253.6L1927.2 252.8L1929.2 252.0L1931.2 251.2L1933.2 250.4L1935.2 249.6L1937.2 248.8L1939.2 248.0L1941.2 247.3L1943.2 246.5L1945.2 245.7L1947.2 245.0L1949.2 244.2L1951.2 243.5L1953.2 242.8L1955.2 242.1L1957.2 241.3L1959.2 240.6L1961.2 239.9L1963.2 239.2L1965.2 238.5L1967.2 237.9L1969.2 237.2L1971.2 236.5L1973.2 235.9L1975.2 235.2L1977.2 234.5L1979.2 233.9L1981.2 233.3L1983.2 232.6L1985.2 232.0L1987.2 231.4L1989.2 230.8L1991.2 230.2L1993.2 229.5L1995.2 229.0L1997.2 228.4L1999.2 227.8L2001.2 227.2L2003.2 226.6L2005.2 226.1L2007.2 225.5L2009.2 224.9L2011.2 224.4L2013.2 223.8L2015.2 223.3L2017.2 222.8L2019.2 222.2L2021.2 221.7L2023.2 221.2L2025.2 220.7L2027.2 220.2L2029.2 219.7L2031.2 219.2L2033.2 218.7L2035.2 218.2L2037.2 217.7L2039.2 217.2L2041.2 216.8L2043.2 216.3L2045.2 215.8L2047.2 215.4L2049.2 214.9L2051.2 214.5L2053.2 214.1L2055.2 213.6L2057.2 213.2L2059.2 212.8L2061.2 212.3L2063.2 211.9L2065.2 211.5L2067.2 211.1L2069.2 210.7L2071.2 210.3L2073.2 209.9L2075.2 209.5L2077.2 209.2L2079.2 208.8L2081.2 208.4L2083.2 208.0L2085.2 207.7L2087.2 207.3L2089.2 207.0L2091.2 206.6L2093.2 206.3L2095.2 205.9L2097.2 205.6L2099.2 205.2L2101.2 204.9L2103.2 204.6L2105.2 204.3L2107.2 204.0L2109.2 203.6L2111.2 203.3L2113.2 203.0L2115.2 202.7L2117.2 202.4L2119.2 202.1L2121.2 201.8L2123.2 201.6L2125.2 201.3L2127.2 201.0L2129.2 200.7L2131.2 200.5L2133.2 200.2L2135.2 199.9L2137.2 199.7L2139.2 199.4L2141.2 199.2L2143.2 198.9L2145.2 198.7L2147.2 198.4L2149.2 198.2L2151.2 197.9L2153.2 197.7L2155.2 197.5L2157.2 197.3L2159.2 197.0L2161.2 196.8L2163.2 196.6L2165.2 196.4L2167.2 196.2L2169.2 196.0L2171.2 195.8L2173.2 195.6L2175.2 195.4L2177.2 195.2L2179.2 195.0L2181.2 194.8L2183.2 194.6L2185.2 194.4L2187.2 194.3L2189.2 194.1L2191.2 193.9L2193.2 193.7L2195.2 193.6L2197.2 193.4L2199.2 193.2L2201.2 193.1L2203.2 192.9L2205.2 192.8L2207.2 192.6L2209.2 192.5L2211.2 192.3L2213.2 192.2L2215.2 192.0L2217.2 191.9L2219.2 191.7L2221.2 191.6L2223.2 191.5L2225.2 191.3L2227.2 191.2L2229.2 191.1L2231.2 190.9L2233.2 190.8L2235.2 190.7L2237.2 190.6L2239.2 190.5L2241.2 190.3L2243.2 190.2L2245.2 190.1L2247.2 190.0L2249.2 189.9L2251.2 189.8L2253.2 189.7L2255.2 189.6L2257.2 189.5L2259.2 189.4L2261.2 189.3L2263.2 189.2L2265.2 189.1L2267.2 189.0L2269.2 188.9L2270.0 188.9" stroke="#8ebe4a"/>
<path d="M1321.2 297.2L1323.2 298.4L1325.2 299.6L1327.2 300.8L1329.2 302.0L1331.2 303.3L1333.2 304.6L1335.2 305.9L1337.2 307.3L1339.2 308.7L1341.2 310.1L1343.2 311.5L1345.2 313.0L1347.2 314.5L1349.2 316.0L1351.2 317.5L1353.2 319.1L1355.2 320.7L1357.2 322.3L1359.2 323.9L1361.2 325.5L1363.2 327.1L1365.2 328.8L1367.2 330.5L1369.2 332.2L1371.2 333.9L1373.2 335.6L1375.2 337.3L1377.2 339.1L1379.2 340.8L1381.2 342.6L1383.2 344.3L1385.2 346.1L1387.2 347.9L1389.2 349.7L1391.2 351.5L1393.2 353.3L1395.2 355.1L1397.2 356.9L1399.2 358.7L1401.2 360.5L1403.2 362.3L1405.2 364.1L1407.2 365.9L1409.2 367.7L1411.2 369.5L1413.2 371.3L1415.2 373.0L1417.2 374.8L1419.2 376.6L1421.2 378.4L1423.2 380.1L1425.2 381.9L1427.2 383.6L1429.2 385.4L1431.2 387.1L1433.2 388.8L1435.2 390.5L1437.2 392.3L1439.2 394.0L1441.2 395.7L1443.2 397.4L1445.2 399.1L1447.2 400.8L1449.2 402.5L1451.2 404.2L1453.2 405.9L1455.2 407.6L1457.2 409.3L1459.2 411.0L1461.2 412.7L1463.2 414.5L1465.2 416.2L1467.2 417.9L1469.2 419.5L1471.2 421.2L1473.2 422.9L1475.2 424.5L1477.2 426.1L1479.2 427.7L1481.2 429.2L1483.2 430.8L1485.2 432.2L1487.2 433.7L1489.2 435.1L1491.2 436.4L1493.2 437.8L1495.2 439.0L1497.2 440.2L1499.2 441.3L1501.2 442.4L1503.2 443.4L1505.2 444.4L1507.2 445.2L1509.2 446.0L1511.2 446.8L1513.2 447.4L1515.2 448.0L1517.2 448.6L1519.2 449.0L1521.2 449.4L1523.2 449.8L1525.2 450.1L1527.2 450.3L1529.2 450.5L1531.2 450.6L1533.2 450.6L1535.2 450.6L1537.2 450.5L1539.2 450.4L1541.2 450.3L1543.2 450.0L1545.2 449.8L1547.2 449.4L1549.2 449.1L1551.2 448.6L1553.2 448.2L1555.2 447.6L1557.2 447.1L1559.2 446.5L1561.2 445.8L1563.2 445.1L1565.2 444.4L1567.2 443.6L1569.2 442.8L1571.2 441.9L1573.2 441.0L1575.2 440.1L1577.2 439.1L1579.2 438.1L1581.2 437.0L1583.2 436.0L1585.2 434.9L1587.2 433.7L1589.2 432.5L1591.2 431.3L1593.2 430.1L1595.2 428.8L1597.2 427.5L1599.2 426.2L1601.2 424.9L1603.2 423.5L1605.2 422.1L1607.2 420.7L1609.2 419.3L1611.2 417.8L1613.2 416.4L1615.2 414.9L1617.2 413.4L1619.2 411.8L1621.2 410.3L1623.2 408.7L1625.2 407.1L1627.2 405.6L1629.2 404.0L1631.2 402.3L1633.2 400.7L1635.2 399.1L1637.2 397.4L1639.2 395.8L1641.2 394.1L1643.2 392.5L1645.2 390.8L1647.2 389.2L1649.2 387.5L1651.2 385.8L1653.2 384.1L1655.2 382.5L1657.2 380.8L1659.2 379.1L1661.2 377.4L1663.2 375.8L1665.2 374.1L1667.2 372.5L1669.2 370.8L1671.2 369.2L1673.2 367.5L1675.2 365.9L1677.2 364.3L1679.2 362.7L1681.2 361.1L1683.2 359.5L1685.2 357.9L1687.2 356.4L1689.2 354.8L1691.2 353.3L1693.2 351.8L1695.2 350.3L1697.2 348.8L1699.2 347.3L1701.2 345.8L1703.2 344.4L1705.2 342.9L1707.2 341.5L1709.2 340.1L1711.2 338.7L1713.2 337.3L1715.2 335.9L1717.2 334.5L1719.2 333.1L1721.2 331.8L1723.2 330.4L1725.2 329.1L1727.2 327.8L1729.2 326.5L1731.2 325.2L1733.2 323.9L1735.2 322.6L1737.2 321.3L1739.2 320.1L1741.2 318.8L1743.2 317.6L1745.2 316.3L1747.2 315.1L1749.2 313.9L1751.2 312.7L1753.2 311.5L1755.2 310.3L1757.2 309.2L1759.2 308.0L1761.2 306.9L1763.2 305.7L1765.2 304.6L1767.2 303.5L1769.2 302.4L1771.2 301.3L1773.2 300.2L1775.2 299.1L1777.2 298.0L1779.2 297.0L1781.2 295.9L1783.2 294.8L1785.2 293.8L1787.2 292.8L1789.2 291.8L1791.2 290.7L1793.2 289.7L1795.2 288.7L1797.2 287.8L1799.2 286.8L1801.2 285.8L1803.2 284.8L1805.2 283.9L1807.2 282.9L1809.2 282.0L1811.2 281.1L1813.2 280.2L1815.2 279.2L1817.2 278.3L1819.2 277.4L1821.2 276.5L1823.2 275.7L1825.2 274.8L1827.2 273.9L1829.2 273.0L1831.2 272.2L1833.2 271.3L1835.2 270.5L1837.2 269.7L1839.2 268.8L1841.2 268.0L1843.2 267.2L1845.2 266.4L1847.2 265.6L1849.2 264.8L1851.2 264.0L1853.2 263.2L1855.2 262.4L1857.2 261.7L1859.2 260.9L1861.2 260.1L1863.2 259.4L1865.2 258.6L1867.2 257.9L1869.2 257.2L1871.2 256.4L1873.2 255.7L1875.2 255.0L1877.2 254.3L1879.2 253.6L1881.2 252.9L1883.2 252.2L1885.2 251.5L1887.2 250.8L1889.2 250.1L1891.2 249.4L1893.2 248.8L1895.2 248.1L1897.2 247.5L1899.2 246.8L1901.2 246.1L1903.2 245.5L1905.2 244.8L1907.2 244.2L1909.2 243.6L1911.2 242.9L1913.2 242.3L1915.2 241.7L1917.2 241.1L1919.2 240.5L1921.2 239.9L1923.2 239.3L1925.2 238.7L1927.2 238.1L1929.2 237.5L1931.2 236.9L1933.2 236.3L1935.2 235.7L1937.2 235.1L1939.2 234.6L1941.2 234.0L1943.2 233.4L1945.2 232.9L1947.2 232.3L1949.2 231.8L1951.2 231.2L1953.2 230.7L1955.2 230.1L1957.2 229.6L1959.2 229.1L1961.2 228.6L1963.2 228.0L1965.2 227.5L1967.2 227.0L1969.2 226.5L1971.2 226.0L1973.2 225.5L1975.2 225.0L1977.2 224.5L1979.2 224.0L1981.2 223.5L1983.2 223.0L1985.2 222.6L1987.2 222.1L1989.2 221.6L1991.2 221.1L1993.2 220.7L1995.2 220.2L1997.2 219.8L1999.2 219.3L2001.2 218.9L2003.2 218.4L2005.2 218.0L2007.2 217.5L2009.2 217.1L2011.2 216.7L2013.2 216.3L2015.2 215.8L2017.2 215.4L2019.2 215.0L2021.2 214.6L2023.2 214.2L2025.2 213.8L2027.2 213.4L2029.2 213.0L2031.2 212.6L2033.2 212.2L2035.2 211.8L2037.2 211.5L2039.2 211.1L2041.2 210.7L2043.2 210.3L2045.2 210.0L2047.2 209.6L2049.2 209.3L2051.2 208.9L2053.2 208.6L2055.2 208.2L2057.2 207.9L2059.2 207.5L2061.2 207.2L2063.2 206.9L2065.2 206.5L2067.2 206.2L2069.2 205.9L2071.2 205.6L2073.2 205.2L2075.2 204.9L2077.2 204.6L2079.2 204.3L2081.2 204.0L2083.2 203.7L2085.2 203.4L2087.2 203.1L2089.2 202.8L2091.2 202.5L2093.2 202.3L2095.2 202.0L2097.2 201.7L2099.2 201.4L2101.2 201.2L2103.2 200.9L2105.2 200.6L2107.2 200.4L2109.2 200.1L2111.2 199.9L2113.2 199.6L2115.2 199.4L2117.2 199.1L2119.2 198.9L2121.2 198.7L2123.2 198.4L2125.2 198.2L2127.2 198.0L2129.2 197.7L2131.2 197.5L2133.2 197.3L2135.2 197.1L2137.2 196.9L2139.2 196.7L2141.2 196.5L2143.2 196.3L2145.2 196.1L2147.2 195.9L2149.2 195.7L2151.2 195.5L2153.2 195.3L2155.2 195.1L2157.2 194.9L2159.2 194.8L2161.2 194.6L2163.2 194.4L2165.2 194.3L2167.2 194.1L2169.2 193.9L2171.2 193.8L2173.2 193.6L2175.2 193.5L2177.2 193.3L2179.2 193.2L2181.2 193.0L2183.2 192.9L2185.2 192.7L2187.2 192.6L2189.2 192.5L2191.2 192.3L2193.2 192.2L2195.2 192.1L2197.2 192.0L2199.2 191.8L2201.2 191.7L2203.2 191.6L2205.2 191.5L2207.2 191.4L2209.2 191.3L2211.2 191.2L2213.2 191.1L2215.2 191.0L2217.2 190.9L2219.2 190.8L2221.2 190.7L2223.2 190.6L2225.2 190.5L2227.2 190.5L2229.2 190.4L2231.2 190.3L2233.2 190.2L2235.2 190.2L2237.2 190.1L2239.2 190.0L2241.2 190.0L2243.2 189.9L2245.2 189.8L2247.2 189.8L2249.2 189.7L2251.2 189.7L2253.2 189.6L2255.2 189.6L2257.2 189.6L2259.2 189.5L2261.2 189.5L2263.2 189.4L2265.2 189.4L2267.2 189.4L2269.2 189.3L2270.0 189.3" stroke="#7a55a5"/>
<path d="M1321.5 269.7L1323.5 270.7L1325.5 271.8L1327.5 272.9L1329.5 274.0L1331.5 275.0L1333.5 276.1L1335.5 277.2L1337.5 278.3L1339.5 279.3L1341.5 280.4L1343.5 281.5L1345.5 282.6L1347.5 283.7L1349.5 284.8L1351.5 285.8L1353.5 286.9L1355.5 288.0L1357.5 289.1L1359.5 290.2L1361.5 291.4L1363.5 292.5L1365.5 293.6L1367.5 294.7L1369.5 295.9L1371.5 297.0L1373.5 298.2L1375.5 299.3L1377.5 300.5L1379.5 301.7L1381.5 302.8L1383.5 304.0L1385.5 305.2L1387.5 306.4L1389.5 307.7L1391.5 308.9L1393.5 310.1L1395.5 311.4L1397.5 312.6L1399.5 313.9L1401.5 315.2L1403.5 316.5L1405.5 317.8L1407.5 319.1L1409.5 320.5L1411.5 321.8L1413.5 323.2L1415.5 324.5L1417.5 325.9L1419.5 327.3L1421.5 328.6L1423.5 330.0L1425.5 331.4L1427.5 332.8L1429.5 334.2L1431.5 335.6L1433.5 337.0L1435.5 338.4L1437.5 339.8L1439.5 341.2L1441.5 342.6L1443.5 344.0L1445.5 345.4L1447.5 346.8L1449.5 348.2L1451.5 349.6L1453.5 350.9L1455.5 352.3L1457.5 353.6L1459.5 355.0L1461.5 356.3L1463.5 357.6L1465.5 358.9L1467.5 360.2L1469.5 361.4L1471.5 362.7L1473.5 363.9L1475.5 365.1L1477.5 366.3L1479.5 367.5L1481.5 368.6L1483.5 369.8L1485.5 370.9L1487.5 372.0L1489.5 373.0L1491.5 374.1L1493.5 375.1L1495.5 376.0L1497.5 376.9L1499.5 377.8L1501.5 378.7L1503.5 379.5L1505.5 380.3L1507.5 381.0L1509.5 381.7L1511.5 382.3L1513.5 382.9L1515.5 383.4L1517.5 383.9L1519.5 384.3L1521.5 384.7L1523.5 385.0L1525.5 385.2L1527.5 385.4L1529.5 385.5L1531.5 385.6L1533.5 385.6L1535.5 385.6L1537.5 385.5L1539.5 385.4L1541.5 385.2L1543.5 384.9L1545.5 384.7L1547.5 384.3L1549.5 383.9L1551.5 383.5L1553.5 383.1L1555.5 382.5L1557.5 382.0L1559.5 381.4L1561.5 380.8L1563.5 380.1L1565.5 379.4L1567.5 378.6L1569.5 377.9L1571.5 377.0L1573.5 376.2L1575.5 375.3L1577.5 374.4L1579.5 373.4L1581.5 372.5L1583.5 371.5L1585.5 370.4L1587.5 369.4L1589.5 368.3L1591.5 367.2L1593.5 366.1L1595.5 364.9L1597.5 363.8L1599.5 362.6L1601.5 361.4L1603.5 360.1L1605.5 358.9L1607.5 357.6L1609.5 356.4L1611.5 355.1L1613.5 353.8L1615.5 352.5L1617.5 351.1L1619.5 349.8L1621.5 348.5L1623.5 347.1L1625.5 345.8L1627.5 344.4L1629.5 343.1L1631.5 341.7L1633.5 340.3L1635.5 339.0L1637.5 337.6L1639.5 336.2L1641.5 334.9L1643.5 333.5L1645.5 332.2L1647.5 330.8L1649.5 329.5L1651.5 328.2L1653.5 326.8L1655.5 325.5L1657.5 324.2L1659.5 322.9L1661.5 321.6L1663.5 320.3L1665.5 319.1L1667.5 317.8L1669.5 316.6L1671.5 315.3L1673.5 314.1L1675.5 312.9L1677.5 311.7L1679.5 310.4L1681.5 309.2L1683.5 308.1L1685.5 306.9L1687.5 305.7L1689.5 304.5L1691.5 303.4L1693.5 302.2L1695.5 301.1L1697.5 300.0L1699.5 298.9L1701.5 297.7L1703.5 296.6L1705.5 295.5L1707.5 294.5L1709.5 293.4L1711.5 292.3L1713.5 291.2L1715.5 290.2L1717.5 289.1L1719.5 288.1L1721.5 287.1L1723.5 286.1L1725.5 285.0L1727.5 284.0L1729.5 283.0L1731.5 282.0L1733.5 281.1L1735.5 280.1L1737.5 279.1L1739.5 278.2L1741.5 277.2L1743.5 276.3L1745.5 275.3L1747.5 274.4L1749.5 273.5L1751.5 272.6L1753.5 271.7L1755.5 270.8L1757.5 269.9L1759.5 269.0L1761.5 268.1L1763.5 267.2L1765.5 266.4L1767.5 265.5L1769.5 264.7L1771.5 263.8L1773.5 263.0L1775.5 262.2L1777.5 261.4L1779.5 260.5L1781.5 259.7L1783.5 258.9L1785.5 258.2L1787.5 257.4L1789.5 256.6L1791.5 255.8L1793.5 255.1L1795.5 254.3L1797.5 253.6L1799.5 252.8L1801.5 252.1L1803.5 251.3L1805.5 250.6L1807.5 249.9L1809.5 249.2L1811.5 248.5L1813.5 247.8L1815.5 247.1L1817.5 246.4L1819.5 245.7L1821.5 245.1L1823.5 244.4L1825.5 243.7L1827.5 243.1L1829.5 242.4L1831.5 241.8L1833.5 241.2L1835.5 240.5L1837.5 239.9L1839.5 239.3L1841.5 238.7L1843.5 238.1L1845.5 237.5L1847.5 236.9L1849.5 236.3L1851.5 235.7L1853.5 235.1L1855.5 234.6L1857.5 234.0L1859.5 233.5L1861.5 232.9L1863.5 232.4L1865.5 231.8L1867.5 231.3L1869.5 230.7L1871.5 230.2L1873.5 229.7L1875.5 229.2L1877.5 228.7L1879.5 228.2L1881.5 227.7L1883.5 227.2L1885.5 226.7L1887.5 226.2L1889.5 225.7L1891.5 225.3L1893.5 224.8L1895.5 224.3L1897.5 223.9L1899.5 223.4L1901.5 223.0L1903.5 222.5L1905.5 222.1L1907.5 221.7L1909.5 221.2L1911.5 220.8L1913.5 220.4L1915.5 220.0L1917.5 219.6L1919.5 219.2L1921.5 218.8L1923.5 218.4L1925.5 218.0L1927.5 217.6L1929.5 217.2L1931.5 216.8L1933.5 216.5L1935.5 216.1L1937.5 215.7L1939.5 215.4L1941.5 215.0L1943.5 214.7L1945.5 214.3L1947.5 214.0L1949.5 213.6L1951.5 213.3L1953.5 213.0L1955.5 212.6L1957.5 212.3L1959.5 212.0L1961.5 211.7L1963.5 211.4L1965.5 211.0L1967.5 210.7L1969.5 210.4L1971.5 210.1L1973.5 209.9L1975.5 209.6L1977.5 209.3L1979.5 209.0L1981.5 208.7L1983.5 208.4L1985.5 208.2L1987.5 207.9L1989.5 207.6L1991.5 207.4L1993.5 207.1L1995.5 206.9L1997.5 206.6L1999.5 206.4L2001.5 206.1L2003.5 205.9L2005.5 205.6L2007.5 205.4L2009.5 205.2L2011.5 204.9L2013.5 204.7L2015.5 204.5L2017.5 204.3L2019.5 204.0L2021.5 203.8L2023.5 203.6L2025.5 203.4L2027.5 203.2L2029.5 203.0L2031.5 202.8L2033.5 202.6L2035.5 202.4L2037.5 202.2L2039.5 202.0L2041.5 201.8L2043.5 201.6L2045.5 201.5L2047.5 201.3L2049.5 201.1L2051.5 200.9L2053.5 200.7L2055.5 200.6L2057.5 200.4L2059.5 200.2L2061.5 200.1L2063.5 199.9L2065.5 199.7L2067.5 199.6L2069.5 199.4L2071.5 199.3L2073.5 199.1L2075.5 199.0L2077.5 198.8L2079.5 198.7L2081.5 198.5L2083.5 198.4L2085.5 198.2L2087.5 198.1L2089.5 197.9L2091.5 197.8L2093.5 197.7L2095.5 197.5L2097.5 197.4L2099.5 197.3L2101.5 197.1L2103.5 197.0L2105.5 196.9L2107.5 196.8L2109.5 196.6L2111.5 196.5L2113.5 196.4L2115.5 196.3L2117.5 196.1L2119.5 196.0L2121.5 195.9L2123.5 195.8L2125.5 195.7L2127.5 195.6L2129.5 195.4L2131.5 195.3L2133.5 195.2L2135.5 195.1L2137.5 195.0L2139.5 194.9L2141.5 194.8L2143.5 194.7L2145.5 194.6L2147.5 194.5L2149.5 194.4L2151.5 194.3L2153.5 194.1L2155.5 194.0L2157.5 193.9L2159.5 193.8L2161.5 193.7L2163.5 193.6L2165.5 193.5L2167.5 193.4L2169.5 193.3L2171.5 193.2L2173.5 193.1L2175.5 193.0L2177.5 192.9L2179.5 192.8L2181.5 192.7L2183.5 192.6L2185.5 192.5L2187.5 192.4L2189.5 192.3L2191.5 192.2L2193.5 192.1L2195.5 192.0L2197.5 191.9L2199.5 191.8L2201.5 191.7L2203.5 191.6L2205.5 191.5L2207.5 191.4L2209.5 191.3L2211.5 191.2L2213.5 191.1L2215.5 191.0L2217.5 190.9L2219.5 190.8L2221.5 190.7L2223.5 190.6L2225.5 190.4L2227.5 190.3L2229.5 190.2L2231.5 190.1L2233.5 190.0L2235.5 189.9L2237.5 189.8L2239.5 189.7L2241.5 189.6L2243.5 189.4L2245.5 189.3L2247.5 189.2L2249.5 189.1L2251.5 189.0L2253.5 188.8L2255.5 188.7L2257.5 188.6L2259.5 188.5L2261.5 188.3L2263.5 188.2L2265.5 188.1L2267.5 188.0L2269.5 187.8L2270.0 187.8" stroke="#38aecd"/>
</g></g>
<text class="n" transform="translate(1263.38 146.90) scale(1 1.0200)" x="0" y="0" font-size="46.04">-1</text>
<text class="n" transform="translate(1519.47 145.91) scale(1 1.0200)" x="0" y="0" font-size="49.50">0</text>
<text class="n" transform="translate(1768.78 145.96) scale(1 1.0200)" x="0" y="0" font-size="49.50">1</text>
<text class="n" transform="translate(2016.47 146.51) scale(1 1.0200)" x="0" y="0" font-size="49.50">2</text>
<text class="n" transform="translate(2265.18 146.51) scale(1 1.0200)" x="0" y="0" font-size="49.50">3</text>
<text class="n" transform="translate(1424.04 108.46) scale(1 1.0200)" x="0" y="0" font-size="49.50">-10</text>
<text class="n" transform="translate(1464.47 204.76) scale(1 1.0200)" x="0" y="0" font-size="49.50">0</text>
<text class="n" transform="translate(1441.13 300.16) scale(1 1.0200)" x="0" y="0" font-size="49.50">100</text>
<text class="n" transform="translate(1443.38 397.51) scale(1 1.0200)" x="0" y="0" font-size="49.50">200</text>
<text class="n" transform="translate(1442.72 492.41) scale(1 1.0200)" x="0" y="0" font-size="49.50">300</text>
<text class="n" transform="translate(1441.17 589.26) scale(1 1.0200)" x="0" y="0" font-size="49.50">400</text>
<text class="n" transform="translate(1441.53 686.86) scale(1 1.0200)" x="0" y="0" font-size="49.50">500</text>
<text class="n" transform="translate(1443.88 782.26) scale(1 1.0200)" x="0" y="0" font-size="49.50">600</text>
<line x1="1301.0" y1="838.5" x2="1369.0" y2="838.5" stroke="#3f78c4" stroke-width="5.4" stroke-linecap="round"/>
<text class="n lg" transform="translate(1374.46 854.31) scale(1 0.9800)" x="0" y="0" font-size="49.20">20 MPa</text>
<line x1="1660.0" y1="838.5" x2="1728.0" y2="838.5" stroke="#c53d3a" stroke-width="5.4" stroke-linecap="round"/>
<text class="n lg" transform="translate(1732.97 854.31) scale(1 0.9800)" x="0" y="0" font-size="49.20">50 MPa</text>
<line x1="2018.4" y1="838.4" x2="2086.4" y2="838.4" stroke="#8ebe4a" stroke-width="5.4" stroke-linecap="round"/>
<text class="n lg" transform="translate(2092.71 853.56) scale(1 0.9800)" x="0" y="0" font-size="49.20">80 MPa</text>
<line x1="1301.0" y1="887.0" x2="1369.0" y2="887.0" stroke="#7a55a5" stroke-width="5.4" stroke-linecap="round"/>
<text class="n lg" transform="translate(1374.33 903.91) scale(1 0.9800)" x="0" y="0" font-size="49.20">120 MPa</text>
<line x1="1660.0" y1="887.0" x2="1728.0" y2="887.0" stroke="#38aecd" stroke-width="5.4" stroke-linecap="round"/>
<text class="n lg" transform="translate(1732.16 903.91) scale(1 0.9800)" x="0" y="0" font-size="49.20">200 MPa</text>
</g>
</svg></body></html>
